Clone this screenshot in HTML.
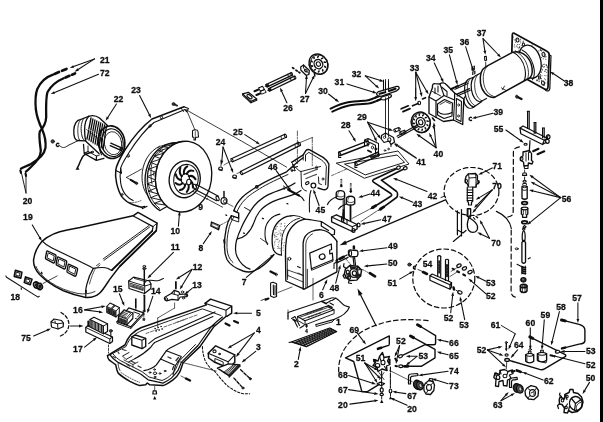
<!DOCTYPE html>
<html><head><meta charset="utf-8"><title>Exploded parts diagram</title>
<style>
html,body{margin:0;padding:0;background:#fff;}
body{width:603px;height:422px;overflow:hidden;position:relative;}
svg{display:block;position:absolute;left:0;top:0;will-change:transform;}
svg text{font-family:"Liberation Sans",sans-serif;font-weight:bold;fill:#111;stroke:#111;stroke-width:0.3px;}
</style></head><body>
<svg width="603" height="422" viewBox="0 0 603 422" fill="none" stroke-linecap="round" stroke-linejoin="round">
<defs><filter id="soft" x="-5%" y="-5%" width="110%" height="110%"><feGaussianBlur stdDeviation="0.4"/></filter></defs>
<rect x="0" y="0" width="603" height="422" fill="#fff"/>
<g filter="url(#soft)">
<path d="M53,74.6 C46,77 40,83 37.3,89 C35.5,94 35.2,102 35.8,109 C36.8,118 40,125 42.4,130 C44.5,135 46,142 45.5,147.8 C44.5,154 38,160 31,164 C27,166 23,167.5 20.9,168.7" stroke="#111" stroke-width="2.29" fill="none" />
<path d="M63.7,78.2 C57,81 51,86 47.7,91.7 C46,96 46,108 46.2,117 C46,123 43,128 39.8,131.5 C38.5,137 40.5,146 40.8,151 C40.5,157 35.5,163 31,167 C29,169 27.5,170.5 25.9,171.7" stroke="#111" stroke-width="2.29" fill="none" />
<line x1="54.5" y1="73.9" x2="59.0" y2="72.0" stroke="#111" stroke-width="2.70"/>
<line x1="62.0" y1="70.8" x2="66.5" y2="68.9" stroke="#111" stroke-width="2.70"/>
<line x1="65.5" y1="77.5" x2="69.5" y2="75.8" stroke="#111" stroke-width="2.70"/>
<line x1="72.0" y1="74.7" x2="75.0" y2="73.4" stroke="#111" stroke-width="2.70"/>
<line x1="20.3" y1="170.5" x2="21.0" y2="173.0" stroke="#111" stroke-width="2.03"/>
<line x1="25.5" y1="173.5" x2="26.0" y2="176.0" stroke="#111" stroke-width="2.03"/>
<path d="M80.4,119.6 C77,119.5 74,124 73.8,130 C73.6,136 75,140 77.5,140.5 L85,140.8" stroke="#111" stroke-width="1.35" fill="none" />
<path d="M80.4,119.6 L88.8,116.3" stroke="#111" stroke-width="1.22" fill="none" />
<path d="M80.4,119.6 C78.5,122 77.5,127 77.8,132 C78,136 78.5,139 79.8,140.6" stroke="#111" stroke-width="0.81" fill="none" />
<path d="M84,118.2 C81.5,121 80.5,127 81.5,133.5 C82,137 83,139.5 84.5,140.7" stroke="#111" stroke-width="0.94" fill="none" />
<path d="M88.8,116.3 C92.5,115 96.5,115.8 99.5,118 L107.5,125.5" stroke="#111" stroke-width="1.35" fill="none" />
<path d="M88.8,116.3 C86,119 84.6,124.5 84.6,130 C84.6,135 85,138.5 85.8,141.2 L99,153.6" stroke="#111" stroke-width="1.35" fill="none" />
<line x1="91.0" y1="118.0" x2="88.8" y2="129.0" stroke="#111" stroke-width="1.35"/>
<line x1="88.7" y1="130.4" x2="87.0" y2="139.0" stroke="#111" stroke-width="1.35"/>
<line x1="92.9" y1="119.0" x2="90.8" y2="130.1" stroke="#111" stroke-width="1.35"/>
<line x1="90.7" y1="131.5" x2="89.0" y2="140.2" stroke="#111" stroke-width="1.35"/>
<line x1="94.9" y1="120.0" x2="92.8" y2="131.2" stroke="#111" stroke-width="1.35"/>
<line x1="92.7" y1="132.7" x2="91.0" y2="141.5" stroke="#111" stroke-width="1.35"/>
<line x1="96.8" y1="121.0" x2="94.7" y2="132.4" stroke="#111" stroke-width="1.35"/>
<line x1="94.6" y1="133.8" x2="93.0" y2="142.8" stroke="#111" stroke-width="1.35"/>
<line x1="98.8" y1="122.0" x2="96.7" y2="133.5" stroke="#111" stroke-width="1.35"/>
<line x1="96.6" y1="134.9" x2="95.1" y2="144.0" stroke="#111" stroke-width="1.35"/>
<line x1="100.7" y1="123.0" x2="98.7" y2="134.6" stroke="#111" stroke-width="1.35"/>
<line x1="98.6" y1="136.0" x2="97.1" y2="145.2" stroke="#111" stroke-width="1.35"/>
<line x1="102.6" y1="124.0" x2="100.6" y2="135.8" stroke="#111" stroke-width="1.35"/>
<line x1="100.5" y1="137.2" x2="99.1" y2="146.5" stroke="#111" stroke-width="1.35"/>
<line x1="104.6" y1="125.0" x2="102.6" y2="136.9" stroke="#111" stroke-width="1.35"/>
<line x1="102.5" y1="138.3" x2="101.1" y2="147.8" stroke="#111" stroke-width="1.35"/>
<line x1="106.5" y1="126.0" x2="104.6" y2="138.0" stroke="#111" stroke-width="1.35"/>
<line x1="104.5" y1="139.4" x2="103.1" y2="149.0" stroke="#111" stroke-width="1.35"/>
<path d="M86.5,129.5 L102,141.5" stroke="#111" stroke-width="0.68" fill="none" />
<ellipse cx="111.6" cy="142.2" rx="13.2" ry="16.4" stroke="#111" stroke-width="1.62" fill="none" transform="rotate(-9 111.6 142.2)"/>
<ellipse cx="112.3" cy="142.7" rx="10.8" ry="14.0" stroke="#111" stroke-width="1.22" fill="none" transform="rotate(-9 112.3 142.7)"/>
<ellipse cx="113.0" cy="143.2" rx="8.6" ry="11.6" stroke="#111" stroke-width="0.81" fill="none" transform="rotate(-9 113.0 143.2)"/>
<path d="M101,129.5 C98,135.5 98,148 101.5,154.8" stroke="#111" stroke-width="1.08" fill="none" />
<path d="M110.8,143.2 L121,147.7 M110.2,145.6 L120.4,150.2" stroke="#111" stroke-width="1.35" fill="none" />
<ellipse cx="120.9" cy="149.0" rx="0.8" ry="1.4" stroke="#111" stroke-width="1.08" fill="none" transform="rotate(-20 120.9 149.0)"/>
<path d="M83.5,144.4 L84.2,153.5 L96.3,160.4 L104,158.3 M84.2,153.5 L88,151.5 M96.3,160.4 L96.5,156" stroke="#111" stroke-width="1.22" fill="none" />
<path d="M88,146 L88,151.5 L96.5,156 L99.5,155" stroke="#111" stroke-width="0.94" fill="none" />
<ellipse cx="92.5" cy="152.0" rx="1.0" ry="0.8" stroke="#111" stroke-width="0.94" fill="none"/>
<path d="M91.8,152 L84.5,154.8 C82.5,155.8 82.3,157.8 81.2,159.6 C80,161.5 79.5,163.3 78.9,164.9 L77.6,167.5" stroke="#111" stroke-width="1.49" fill="none" />
<polygon points="77.5,166.3 75.5,169.8 79.5,169.8" fill="#111"/>
<ellipse cx="52.7" cy="141.4" rx="1.7" ry="1.7" stroke="#111" stroke-width="0.81" fill="#444"/>
<path d="M58.8,143.8 A1.5 1.5 0 1 0 58.8,146" stroke="#111" stroke-width="1.35" fill="none" />
<path d="M59.5,145.5 C62,148.5 65,148 68,145.5 L79.6,139.9" stroke="#111" stroke-width="0.94" fill="none" />
<path d="M184,106.8 L152,119 C141,127.5 132,139 124.9,150 C119.5,159 116.5,165 115.8,169.9 C115.2,174.5 115.6,179 116.6,183.2 C117.8,188.5 119.3,192.8 121.6,196.4 C124.5,200.5 128.5,203 133.2,204.7 C136.5,205.9 139,206.7 141.5,207.2 L144.8,206.4" stroke="#111" stroke-width="1.49" fill="none" />
<path d="M185,109.5 L154,122.5 C144,130.5 136,141.5 129,152.5 C124.5,160 121.5,164.5 120.7,168.2 C120,173 120,178.5 120.7,183.2 C121.5,188 123,191.7 125.7,194.8 C128,197.5 130.5,199.3 133.2,200.6" stroke="#111" stroke-width="1.08" fill="none" />
<path d="M184,106.8 L188.5,108.5 L186.5,111.8 L185,109.5" stroke="#111" stroke-width="1.08" fill="none" />
<path d="M181,108 L183.5,111.5" stroke="#111" stroke-width="0.94" fill="none" />
<path d="M115.8,170.5 L121.5,173.2 L120.7,168.2" stroke="#111" stroke-width="1.08" fill="none" />
<ellipse cx="150.0" cy="126.0" rx="1.0" ry="1.5" stroke="#111" stroke-width="0.81" fill="none" transform="rotate(40 150.0 126.0)"/>
<ellipse cx="161.5" cy="117.5" rx="1.0" ry="1.4" stroke="#111" stroke-width="0.81" fill="none" transform="rotate(40 161.5 117.5)"/>
<ellipse cx="128.5" cy="156.0" rx="0.8" ry="1.5" stroke="#111" stroke-width="0.81" fill="none" transform="rotate(25 128.5 156.0)"/>
<ellipse cx="122.2" cy="194.5" rx="0.8" ry="1.2" stroke="#111" stroke-width="0.81" fill="none"/>
<path d="M141.5,207.2 L142.6,208.6 L147.1,206.3" stroke="#111" stroke-width="1.08" fill="none" />
<path d="M130,202.5 C134,203 138,202 141,200.5" stroke="#111" stroke-width="0.68" fill="none" stroke-dasharray="1.3 1.3" />
<line x1="173.5" y1="104.0" x2="177.1" y2="105.6" stroke="#222" stroke-width="1.89"/>
<ellipse cx="173.5" cy="104.0" rx="1.5" ry="1.5" stroke="#111" stroke-width="0.68" fill="#333"/>
<line x1="186.5" y1="110.0" x2="195.0" y2="130.0" stroke="#111" stroke-width="0.81"/>
<line x1="186.5" y1="110.0" x2="240.5" y2="140.5" stroke="#111" stroke-width="0.81"/>
<line x1="240.5" y1="140.5" x2="286.6" y2="167.1" stroke="#111" stroke-width="0.81"/>
<path d="M192.5,131.5 C192,129.5 197.5,129 198,131.5 L198.5,137 L195.5,137.5 L195.5,140 L194,140 L194,137.5 L192.5,137 Z" stroke="#111" stroke-width="1.08" fill="none" />
<line x1="195.3" y1="131.5" x2="195.3" y2="136.5" stroke="#111" stroke-width="0.68"/>
<line x1="126.5" y1="177.4" x2="130.7" y2="179.9" stroke="#111" stroke-width="0.81"/>
<line x1="126.5" y1="177.4" x2="141.5" y2="169.1" stroke="#111" stroke-width="0.81"/>
<line x1="130.7" y1="179.9" x2="136.0" y2="183.0" stroke="#111" stroke-width="2.03"/>
<ellipse cx="136.6" cy="183.3" rx="1.1" ry="1.3" stroke="#111" stroke-width="0.68" fill="#333"/>
<path d="M160,146 C149,151 142,163 142,177 C142,186 145,193 149,197" stroke="#111" stroke-width="0.94" fill="none" />
<path d="M163,150 C154,155 147.5,165 147.5,177 C147.5,184 149.5,189 152,192" stroke="#111" stroke-width="0.81" fill="none" />
<path d="M166,144.5 C163,145 160,146.5 158,148" stroke="#111" stroke-width="0.81" fill="none" stroke-dasharray="2 1.5" />
<path d="M152,163 C150.5,168 150.5,178 152,184" stroke="#111" stroke-width="0.81" fill="none" />
<ellipse cx="154.5" cy="174.0" rx="1.2" ry="2.0" stroke="#111" stroke-width="0.68" fill="none"/>
<path d="M159.9,210.5 L158.2,209.4 L156.6,208.2 L155.1,206.8 L153.6,205.3 L152.2,203.6 L151.0,201.8 L149.8,199.9 L148.8,197.9 L147.9,195.8 L147.1,193.6 L146.4,191.4 L145.9,189.0 L145.5,186.7 L145.2,184.2 L145.1,181.8 L145.1,179.3 L145.2,176.9 L145.5,174.4 L145.9,172.0 L146.4,169.5 L147.1,167.2 L147.9,164.9 L148.8,162.6 L149.9,160.4 L151.0,158.4 L152.3,156.4 L153.7,154.5 L155.1,152.7 L156.7,151.1 L158.3,149.6 L160.0,148.2 L161.8,147.0 L163.6,145.9 L165.5,145.0 L167.4,144.2 L169.3,143.7 L171.3,143.2 L173.3,143.0 L175.2,142.9" stroke="#111" stroke-width="1.35" fill="none" />
<path d="M159.6,208.4 L158.0,207.1 L156.5,205.6 L155.1,204.1 L153.8,202.3 L152.6,200.5 L151.5,198.5 L150.5,196.5 L149.7,194.3 L148.9,192.1 L148.3,189.8 L147.8,187.5 L147.5,185.1 L147.3,182.6 L147.2,180.2 L147.3,177.7 L147.5,175.2 L147.9,172.8 L148.3,170.3 L149.0,168.0 L149.7,165.6 L150.6,163.3 L151.5,161.1 L152.6,159.0 L153.9,156.9 L155.2,155.0 L156.6,153.2 L158.1,151.5 L159.7,149.9 L161.4,148.5 L163.1,147.2 L164.9,146.0 L166.7,145.0 L168.6,144.2 L170.6,143.5 L172.5,143.0 L174.5,142.7" stroke="#111" stroke-width="0.94" fill="none" />
<ellipse cx="183.6" cy="176.6" rx="28.0" ry="35.5" stroke="#111" stroke-width="1.35" fill="#fff" transform="rotate(8 183.6 176.6)"/>
<line x1="175.2" y1="142.9" x2="182.7" y2="141.4" stroke="#111" stroke-width="1.22"/>
<line x1="159.9" y1="210.5" x2="167.0" y2="206.5" stroke="#111" stroke-width="1.22"/>
<path d="M154.4,203.2 L161.7,200.6 L165.1,204.7 Z" stroke="#111" stroke-width="0.94" fill="none" />
<path d="M151.0,197.5 L158.5,194.6 L161.1,199.7 Z" stroke="#111" stroke-width="0.94" fill="none" />
<path d="M148.6,191.0 L156.4,187.9 L158.1,193.6 Z" stroke="#111" stroke-width="0.94" fill="none" />
<path d="M147.4,183.8 L155.5,180.7 L156.1,186.7 Z" stroke="#111" stroke-width="0.94" fill="none" />
<path d="M147.4,176.5 L155.8,173.3 L155.4,179.5 Z" stroke="#111" stroke-width="0.94" fill="none" />
<path d="M148.6,169.1 L157.3,166.1 L156.0,172.1 Z" stroke="#111" stroke-width="0.94" fill="none" />
<path d="M151.0,162.2 L160.0,159.3 L157.7,164.9 Z" stroke="#111" stroke-width="0.94" fill="none" />
<path d="M154.5,156.0 L163.7,153.2 L160.6,158.2 Z" stroke="#111" stroke-width="0.94" fill="none" />
<path d="M158.9,150.7 L168.3,148.2 L164.4,152.3 Z" stroke="#111" stroke-width="0.94" fill="none" />
<path d="M164.0,146.6 L173.6,144.5 L169.1,147.5 Z" stroke="#111" stroke-width="0.94" fill="none" />
<path d="M169.6,143.8 L179.2,142.1 L174.5,144.0 Z" stroke="#111" stroke-width="0.94" fill="none" />
<ellipse cx="184.7" cy="179.3" rx="15.5" ry="18.5" stroke="#111" stroke-width="1.35" fill="none" transform="rotate(8 184.7 179.3)"/>
<ellipse cx="186.0" cy="179.3" rx="12.2" ry="15.0" stroke="#111" stroke-width="1.08" fill="none" transform="rotate(8 186.0 179.3)"/>
<path d="M189.4,179.9 Q193.3,181.9 192.9,187.6" stroke="#111" stroke-width="2.03" fill="none" />
<path d="M188.0,183.1 Q190.0,187.7 186.8,191.9" stroke="#111" stroke-width="2.03" fill="none" />
<path d="M185.3,184.4 Q184.5,189.5 180.0,190.1" stroke="#111" stroke-width="2.03" fill="none" />
<path d="M182.6,183.1 Q179.4,186.4 175.6,183.1" stroke="#111" stroke-width="2.03" fill="none" />
<path d="M181.2,179.9 Q177.0,179.8 175.8,174.2" stroke="#111" stroke-width="2.03" fill="none" />
<path d="M181.7,176.3 Q178.6,172.8 180.4,167.6" stroke="#111" stroke-width="2.03" fill="none" />
<path d="M183.9,173.9 Q183.3,168.7 187.3,166.3" stroke="#111" stroke-width="2.03" fill="none" />
<path d="M186.7,173.9 Q188.9,169.5 193.3,170.9" stroke="#111" stroke-width="2.03" fill="none" />
<path d="M188.9,176.3 Q192.8,174.7 195.5,179.3" stroke="#111" stroke-width="2.03" fill="none" />
<ellipse cx="185.3" cy="179.0" rx="4.2" ry="5.4" stroke="#111" stroke-width="1.08" fill="none" transform="rotate(8 185.3 179.0)"/>
<ellipse cx="188.8" cy="182.0" rx="2.2" ry="2.8" stroke="#111" stroke-width="1.08" fill="#fff" transform="rotate(8 188.8 182.0)"/>
<line x1="190.5" y1="182.8" x2="196.0" y2="185.6" stroke="#111" stroke-width="0.94"/>
<path d="M195.8,184.3 L218.5,196.2 M193.8,188.8 L216.6,200.7" stroke="#111" stroke-width="1.22" fill="none" />
<ellipse cx="194.8" cy="186.6" rx="1.3" ry="2.4" stroke="#111" stroke-width="1.08" fill="#fff" transform="rotate(-25 194.8 186.6)"/>
<ellipse cx="217.6" cy="198.4" rx="1.3" ry="2.4" stroke="#111" stroke-width="1.08" fill="none" transform="rotate(-25 217.6 198.4)"/>
<ellipse cx="224.0" cy="200.8" rx="3.0" ry="3.3" stroke="#111" stroke-width="1.22" fill="#fff"/>
<ellipse cx="225.0" cy="201.3" rx="1.5" ry="1.8" stroke="#111" stroke-width="0.81" fill="none"/>
<line x1="224.0" y1="191.5" x2="224.0" y2="198.0" stroke="#111" stroke-width="1.49"/>
<line x1="226.5" y1="203.0" x2="233.0" y2="206.5" stroke="#111" stroke-width="0.68"/>
<path d="M193.2,191.5 L222.6,207.2 M207.5,198.2 L206.8,199.6" stroke="#111" stroke-width="0.81" fill="none" />
<path d="M232.7,161.7 L286.2,137.3" stroke="#111" stroke-width="1.22" fill="none" />
<path d="M231.3,158.7 L284.8,134.3" stroke="#111" stroke-width="1.22" fill="none" />
<ellipse cx="232.0" cy="160.2" rx="0.9" ry="1.8" stroke="#111" stroke-width="1.08" fill="none" transform="rotate(-25 232.0 160.2)"/>
<ellipse cx="285.5" cy="135.8" rx="0.9" ry="1.8" stroke="#111" stroke-width="1.08" fill="none" transform="rotate(-25 285.5 135.8)"/>
<line x1="281.0" y1="136.5" x2="281.6" y2="139.3" stroke="#111" stroke-width="0.81"/>
<path d="M242.1,174.5 L300.2,145.4" stroke="#111" stroke-width="1.22" fill="none" />
<path d="M240.5,171.5 L298.6,142.4" stroke="#111" stroke-width="1.22" fill="none" />
<ellipse cx="241.3" cy="173.0" rx="0.9" ry="1.8" stroke="#111" stroke-width="1.08" fill="none" transform="rotate(-25 241.3 173.0)"/>
<ellipse cx="299.4" cy="143.9" rx="0.9" ry="1.8" stroke="#111" stroke-width="1.08" fill="none" transform="rotate(-25 299.4 143.9)"/>
<line x1="294.9" y1="144.7" x2="295.5" y2="147.5" stroke="#111" stroke-width="0.81"/>
<ellipse cx="220.6" cy="168.6" rx="1.9" ry="1.6" stroke="#111" stroke-width="1.22" fill="#fff"/>
<line x1="221.0" y1="166.0" x2="221.0" y2="160.0" stroke="#111" stroke-width="0.81"/>
<path d="M219,169.5 L222,170.5" stroke="#111" stroke-width="1.22" fill="none" />
<ellipse cx="234.6" cy="176.6" rx="1.9" ry="1.6" stroke="#111" stroke-width="1.22" fill="#fff"/>
<path d="M233,177.5 L236,178.5" stroke="#111" stroke-width="1.22" fill="none" />
<line x1="224.0" y1="165.0" x2="231.0" y2="161.0" stroke="#111" stroke-width="0.68"/>
<line x1="237.0" y1="173.5" x2="241.0" y2="172.0" stroke="#111" stroke-width="0.68"/>
<path d="M242.6,93.9 L248.4,92.3 L256.7,98.9 L250.9,101.4 Z" stroke="#111" stroke-width="1.22" fill="none" />
<path d="M242.6,93.9 L242.8,95.3 L250.9,102.8 L250.9,101.4" stroke="#111" stroke-width="1.08" fill="none" />
<line x1="250.9" y1="102.8" x2="256.7" y2="100.2" stroke="#111" stroke-width="1.08"/>
<line x1="256.7" y1="98.9" x2="256.7" y2="100.2" stroke="#111" stroke-width="1.08"/>
<ellipse cx="249.5" cy="96.6" rx="3.0" ry="1.4" stroke="#111" stroke-width="1.08" fill="none" transform="rotate(38 249.5 96.6)"/>
<line x1="254.5" y1="91.2" x2="258.0" y2="89.8" stroke="#111" stroke-width="2.16"/>
<line x1="256.5" y1="95.0" x2="260.0" y2="93.6" stroke="#111" stroke-width="2.16"/>
<path d="M258.5,88.0 L262.5,86.3 L264.5,89.5 L260.5,91.3 Z" stroke="#111" stroke-width="1.08" fill="none" />
<path d="M260.5,91.3 L264.5,89.5 L266.2,92.3 L262.0,94.0 Z" stroke="#111" stroke-width="0.94" fill="none" />
<path d="M267.3,86.9 L292.2,75.2" stroke="#111" stroke-width="1.35" fill="none" />
<path d="M266.1,84.5 L291.0,72.8" stroke="#111" stroke-width="1.35" fill="none" />
<ellipse cx="266.7" cy="85.7" rx="0.8" ry="1.4" stroke="#111" stroke-width="1.08" fill="none" transform="rotate(-25.16787014978159 266.7 85.7)"/>
<ellipse cx="291.6" cy="74.0" rx="0.8" ry="1.4" stroke="#111" stroke-width="1.08" fill="none" transform="rotate(-25.16787014978159 291.6 74.0)"/>
<path d="M269.8,91.0 L295.5,78.6" stroke="#111" stroke-width="1.35" fill="none" />
<path d="M268.6,88.6 L294.3,76.2" stroke="#111" stroke-width="1.35" fill="none" />
<ellipse cx="269.2" cy="89.8" rx="0.8" ry="1.4" stroke="#111" stroke-width="1.08" fill="none" transform="rotate(-25.756857109895716 269.2 89.8)"/>
<ellipse cx="294.9" cy="77.4" rx="0.8" ry="1.4" stroke="#111" stroke-width="1.08" fill="none" transform="rotate(-25.756857109895716 294.9 77.4)"/>
<polygon points="264.3,86.8 268.5,83.6 269.3,86.6" fill="#111"/>
<polygon points="266.8,90.9 271,87.7 271.8,90.7" fill="#111"/>
<line x1="287.5" y1="74.2" x2="288.7" y2="77.0" stroke="#111" stroke-width="0.94"/>
<line x1="290.2" y1="78.0" x2="291.2" y2="80.5" stroke="#111" stroke-width="0.94"/>
<line x1="292.6" y1="67.7" x2="293.8" y2="68.5" stroke="#111" stroke-width="1.76"/>
<line x1="296.0" y1="70.2" x2="297.2" y2="71.0" stroke="#111" stroke-width="1.76"/>
<line x1="298.8" y1="72.1" x2="299.8" y2="72.8" stroke="#111" stroke-width="1.76"/>
<path d="M300.7,67.0 L303.5,65.0 L309.3,70.5 L309.0,74.3 L306.3,75.5 L300.9,70.2 Z" stroke="#111" stroke-width="1.22" fill="none" />
<path d="M303.5,65.0 L303.6,68.3 L309.0,73.5" stroke="#111" stroke-width="0.94" fill="none" />
<ellipse cx="305.8" cy="70.6" rx="1.6" ry="1.1" stroke="#111" stroke-width="0.94" fill="none" transform="rotate(40 305.8 70.6)"/>
<line x1="306.5" y1="75.5" x2="306.8" y2="78.0" stroke="#111" stroke-width="1.08"/>
<ellipse cx="318.4" cy="64.1" rx="9.1" ry="10.4" stroke="#111" stroke-width="1.49" fill="none" transform="rotate(-28 318.4 64.1)"/>
<ellipse cx="319.3" cy="64.6" rx="8.6" ry="10.0" stroke="#111" stroke-width="0.81" fill="none" transform="rotate(-28 319.3 64.6)"/>
<ellipse cx="318.4" cy="64.1" rx="4.2" ry="4.8" stroke="#111" stroke-width="1.35" fill="none" transform="rotate(-28 318.4 64.1)"/>
<ellipse cx="318.4" cy="64.1" rx="2.0" ry="2.3" stroke="#111" stroke-width="1.08" fill="none" transform="rotate(-28 318.4 64.1)"/>
<line x1="324.3" y1="62.1" x2="325.3" y2="62.3" stroke="#111" stroke-width="1.62"/>
<line x1="324.7" y1="66.4" x2="325.4" y2="67.2" stroke="#111" stroke-width="1.62"/>
<line x1="322.7" y1="69.8" x2="322.8" y2="70.9" stroke="#111" stroke-width="1.62"/>
<line x1="319.0" y1="71.0" x2="318.5" y2="72.0" stroke="#111" stroke-width="1.62"/>
<line x1="315.2" y1="69.6" x2="314.2" y2="70.1" stroke="#111" stroke-width="1.62"/>
<line x1="312.5" y1="66.1" x2="311.5" y2="65.9" stroke="#111" stroke-width="1.62"/>
<line x1="312.1" y1="61.8" x2="311.4" y2="61.0" stroke="#111" stroke-width="1.62"/>
<line x1="314.1" y1="58.4" x2="314.0" y2="57.3" stroke="#111" stroke-width="1.62"/>
<line x1="317.8" y1="57.2" x2="318.3" y2="56.2" stroke="#111" stroke-width="1.62"/>
<line x1="321.6" y1="58.6" x2="322.6" y2="58.1" stroke="#111" stroke-width="1.62"/>
<line x1="314.3" y1="73.5" x2="315.0" y2="76.0" stroke="#111" stroke-width="1.35"/>
<path d="M330.6,108.6 C337,105.5 342,103.5 348,102.3 C356,100.8 362,101.2 366.5,100.6 C370,100 372.5,98.6 375.5,97.6" stroke="#111" stroke-width="2.03" fill="none" />
<path d="M332.3,111.6 C339,108.5 344,106.5 350,105.3 C358,103.8 364,104.2 368.5,103.6 C372,103 374.5,101.6 377.5,100.6" stroke="#111" stroke-width="2.03" fill="none" />
<line x1="375.5" y1="97.6" x2="379.5" y2="96.0" stroke="#111" stroke-width="2.16"/>
<line x1="377.5" y1="100.6" x2="381.5" y2="99.0" stroke="#111" stroke-width="2.16"/>
<line x1="385.5" y1="79.5" x2="385.5" y2="136.5" stroke="#111" stroke-width="0.88"/>
<line x1="388.5" y1="79.5" x2="388.5" y2="136.5" stroke="#111" stroke-width="0.88"/>
<line x1="383.5" y1="80.0" x2="383.5" y2="90.0" stroke="#111" stroke-width="1.08"/>
<path d="M377.5,95.6 C376,94.3 376.6,92.3 378.6,91.6 L396.8,86.4 C398.8,86.1 399.9,87.7 398.7,89.1 L396,91.2 L381,96.3 Z" stroke="#111" stroke-width="1.35" fill="#fff" />
<path d="M379.6,93.8 L385.3,92.2 M389,91 L395.5,88.8" stroke="#111" stroke-width="2.16" fill="none" />
<path d="M381.5,99.5 C380.3,98.3 381,97 382.7,96.6 L389.5,94.6 C391.5,94.4 392.1,95.8 391,96.9 L388.5,98.3 L384,100 Z" stroke="#111" stroke-width="1.22" fill="#fff" />
<line x1="385.5" y1="82.0" x2="385.5" y2="92.0" stroke="#111" stroke-width="0.88"/>
<line x1="388.5" y1="82.0" x2="388.5" y2="91.3" stroke="#111" stroke-width="0.88"/>
<line x1="385.5" y1="97.8" x2="385.5" y2="101.0" stroke="#111" stroke-width="0.88"/>
<line x1="388.5" y1="96.5" x2="388.5" y2="101.0" stroke="#111" stroke-width="0.88"/>
<path d="M340.3,155.5 L368.7,144.5" stroke="#111" stroke-width="1.35" fill="none" />
<path d="M338.9,152.1 L367.3,141.1" stroke="#111" stroke-width="1.35" fill="none" />
<ellipse cx="339.6" cy="153.8" rx="1.0" ry="1.9" stroke="#111" stroke-width="1.08" fill="none" transform="rotate(-21.172578619429586 339.6 153.8)"/>
<ellipse cx="368.0" cy="142.8" rx="1.0" ry="1.9" stroke="#111" stroke-width="1.08" fill="none" transform="rotate(-21.172578619429586 368.0 142.8)"/>
<path d="M356.7,165.5 L378.8,155.7" stroke="#111" stroke-width="1.35" fill="none" />
<path d="M355.3,162.1 L377.4,152.3" stroke="#111" stroke-width="1.35" fill="none" />
<ellipse cx="356.0" cy="163.8" rx="1.0" ry="1.9" stroke="#111" stroke-width="1.08" fill="none" transform="rotate(-23.914361493656173 356.0 163.8)"/>
<ellipse cx="378.1" cy="154.0" rx="1.0" ry="1.9" stroke="#111" stroke-width="1.08" fill="none" transform="rotate(-23.914361493656173 378.1 154.0)"/>
<path d="M339,152 L338.6,157.3 L340.8,157.5" stroke="#111" stroke-width="1.22" fill="none" />
<path d="M355.3,162 L354.9,167.3 L357,167.5" stroke="#111" stroke-width="1.22" fill="none" />
<path d="M364.5,146 L364.5,140 L368,138.5 L378.5,143.5 L378.5,156 M368,138.5 L368,146 M364.5,140 L375.5,145.2 L375.5,154" stroke="#111" stroke-width="1.08" fill="none" />
<ellipse cx="372.5" cy="147.5" rx="1.1" ry="1.4" stroke="#111" stroke-width="0.94" fill="none"/>
<ellipse cx="375.8" cy="149.0" rx="1.0" ry="1.3" stroke="#111" stroke-width="0.94" fill="none"/>
<line x1="368.0" y1="150.5" x2="371.0" y2="152.0" stroke="#111" stroke-width="1.89"/>
<path d="M381.5,135.5 L385.5,133 L393.5,137.5 L394.5,142 L391,144.5 L389,141 L384,142.5 L381.3,139 Z" stroke="#111" stroke-width="1.22" fill="none" />
<ellipse cx="389.3" cy="139.8" rx="1.6" ry="2.0" stroke="#111" stroke-width="1.08" fill="none"/>
<ellipse cx="384.5" cy="137.3" rx="1.2" ry="1.2" stroke="#111" stroke-width="0.81" fill="none"/>
<line x1="391.0" y1="144.5" x2="391.0" y2="146.5" stroke="#111" stroke-width="1.08"/>
<ellipse cx="388.5" cy="149.0" rx="0.8" ry="0.8" stroke="#111" stroke-width="0.81" fill="none"/>
<ellipse cx="385.0" cy="150.5" rx="0.8" ry="0.8" stroke="#111" stroke-width="0.81" fill="none"/>
<path d="M395.1,132.0 L399.8,130.3" stroke="#111" stroke-width="1.08" fill="none" />
<path d="M394.1,129.2 L398.8,127.5" stroke="#111" stroke-width="1.08" fill="none" />
<ellipse cx="394.6" cy="130.6" rx="0.8" ry="1.5" stroke="#111" stroke-width="0.86" fill="none" transform="rotate(-19.88516511385536 394.6 130.6)"/>
<ellipse cx="399.3" cy="128.9" rx="0.8" ry="1.5" stroke="#111" stroke-width="0.86" fill="none" transform="rotate(-19.88516511385536 399.3 128.9)"/>
<path d="M400.8,134.7 L405.5,133.0" stroke="#111" stroke-width="1.08" fill="none" />
<path d="M399.8,131.9 L404.5,130.2" stroke="#111" stroke-width="1.08" fill="none" />
<ellipse cx="400.3" cy="133.3" rx="0.8" ry="1.5" stroke="#111" stroke-width="0.86" fill="none" transform="rotate(-19.885165113855667 400.3 133.3)"/>
<ellipse cx="405.0" cy="131.6" rx="0.8" ry="1.5" stroke="#111" stroke-width="0.86" fill="none" transform="rotate(-19.885165113855667 405.0 131.6)"/>
<line x1="395.0" y1="143.0" x2="416.0" y2="157.5" stroke="#111" stroke-width="0.68"/>
<line x1="346.6" y1="169.0" x2="331.6" y2="175.6" stroke="#111" stroke-width="0.68" stroke-dasharray="3 1.5 0.8 1.5"/>
<path d="M336.6,163.1 L398.0,151.0 L409.0,164.0 L364.8,178.1 Z" stroke="#111" stroke-width="0.94" fill="none" />
<path d="M344.9,164.0 L397.0,155.0 L404.6,162.3 L365.6,174.8 Z" stroke="#111" stroke-width="0.94" fill="none" />
<line x1="372.1" y1="157.2" x2="375.9" y2="155.8" stroke="#222" stroke-width="2.03"/>
<ellipse cx="372.1" cy="157.2" rx="1.5" ry="1.5" stroke="#111" stroke-width="0.68" fill="#333"/>
<ellipse cx="420.7" cy="122.3" rx="9.4" ry="10.3" stroke="#111" stroke-width="1.49" fill="none" transform="rotate(-20 420.7 122.3)"/>
<ellipse cx="421.5" cy="122.8" rx="9.0" ry="10.0" stroke="#111" stroke-width="0.81" fill="none" transform="rotate(-20 421.5 122.8)"/>
<ellipse cx="420.7" cy="122.3" rx="4.4" ry="4.9" stroke="#111" stroke-width="1.35" fill="none" transform="rotate(-20 420.7 122.3)"/>
<ellipse cx="420.7" cy="122.3" rx="2.1" ry="2.5" stroke="#111" stroke-width="1.08" fill="none" transform="rotate(-20 420.7 122.3)"/>
<line x1="427.0" y1="121.1" x2="428.1" y2="121.3" stroke="#111" stroke-width="1.49"/>
<line x1="427.0" y1="124.8" x2="427.8" y2="125.5" stroke="#111" stroke-width="1.49"/>
<line x1="425.2" y1="127.7" x2="425.6" y2="128.8" stroke="#111" stroke-width="1.49"/>
<line x1="422.2" y1="129.3" x2="422.0" y2="130.3" stroke="#111" stroke-width="1.49"/>
<line x1="418.8" y1="128.9" x2="418.1" y2="129.7" stroke="#111" stroke-width="1.49"/>
<line x1="416.0" y1="126.8" x2="414.9" y2="127.2" stroke="#111" stroke-width="1.49"/>
<line x1="414.4" y1="123.5" x2="413.3" y2="123.3" stroke="#111" stroke-width="1.49"/>
<line x1="414.4" y1="119.8" x2="413.6" y2="119.1" stroke="#111" stroke-width="1.49"/>
<line x1="416.2" y1="116.9" x2="415.8" y2="115.8" stroke="#111" stroke-width="1.49"/>
<line x1="419.2" y1="115.3" x2="419.4" y2="114.3" stroke="#111" stroke-width="1.49"/>
<line x1="422.6" y1="115.7" x2="423.3" y2="114.9" stroke="#111" stroke-width="1.49"/>
<line x1="425.4" y1="117.8" x2="426.5" y2="117.4" stroke="#111" stroke-width="1.49"/>
<line x1="418.0" y1="124.5" x2="397.0" y2="136.2" stroke="#111" stroke-width="1.08"/>
<line x1="418.8" y1="126.2" x2="398.0" y2="137.8" stroke="#111" stroke-width="1.08"/>
<line x1="432.5" y1="118.0" x2="434.5" y2="120.5" stroke="#111" stroke-width="1.62"/>
<line x1="433.0" y1="126.5" x2="434.5" y2="129.0" stroke="#111" stroke-width="1.35"/>
<line x1="401.2" y1="108.8" x2="408.3" y2="105.8" stroke="#111" stroke-width="1.76"/>
<line x1="403.0" y1="111.6" x2="410.0" y2="108.6" stroke="#111" stroke-width="1.76"/>
<line x1="412.5" y1="105.8" x2="418.0" y2="103.4" stroke="#111" stroke-width="1.62"/>
<ellipse cx="419.2" cy="103.0" rx="1.4" ry="1.8" stroke="#111" stroke-width="1.08" fill="none"/>
<line x1="422.5" y1="99.0" x2="425.5" y2="97.7" stroke="#111" stroke-width="1.62"/>
<line x1="415.7" y1="88.0" x2="415.7" y2="98.0" stroke="#111" stroke-width="0.81"/>
<path d="M514.5,33.4 L546.5,51 C548.5,52 549.2,53.2 549.2,55 L548,87 C548,89.3 546.5,90 544.5,89 L513,71.5 C511.5,70.5 511.3,69.5 511.4,68 L512.3,35 C512.4,33 513,32.6 514.5,33.4 Z" stroke="#111" stroke-width="1.76" fill="#fff" />
<path d="M549.2,55 L551,55.8 L549.8,88.5 C549.7,90.8 548,91.5 546,90.5 L544.5,89" stroke="#111" stroke-width="1.22" fill="none" />
<ellipse cx="529.8" cy="61.7" rx="11.0" ry="16.8" stroke="#111" stroke-width="1.35" fill="none" transform="rotate(-14 529.8 61.7)"/>
<path d="M522,50 C526.5,52 531.5,58 533.5,66 C535,72 534.5,76.5 532.5,79.8" stroke="#111" stroke-width="1.08" fill="none" />
<ellipse cx="517.5" cy="40.0" rx="1.5" ry="2.0" stroke="#111" stroke-width="1.08" fill="none" transform="rotate(-14 517.5 40.0)"/>
<ellipse cx="543.5" cy="54.5" rx="1.5" ry="2.0" stroke="#111" stroke-width="1.08" fill="none" transform="rotate(-14 543.5 54.5)"/>
<ellipse cx="543.0" cy="83.0" rx="1.5" ry="2.0" stroke="#111" stroke-width="1.08" fill="none" transform="rotate(-14 543.0 83.0)"/>
<ellipse cx="517.0" cy="68.5" rx="1.5" ry="2.0" stroke="#111" stroke-width="1.08" fill="none" transform="rotate(-14 517.0 68.5)"/>
<ellipse cx="523.5" cy="44.5" rx="1.1" ry="1.5" stroke="#111" stroke-width="0.94" fill="none" transform="rotate(-14 523.5 44.5)"/>
<ellipse cx="539.5" cy="77.5" rx="1.1" ry="1.5" stroke="#111" stroke-width="0.94" fill="none" transform="rotate(-14 539.5 77.5)"/>
<ellipse cx="521.0" cy="72.5" rx="1.1" ry="1.5" stroke="#111" stroke-width="0.94" fill="none" transform="rotate(-14 521.0 72.5)"/>
<path d="M513.1,64.1h0.1 M548.2,69.4h0.1 M542.5,66.6h0.1 M523.4,41.2h0.1 M543.6,67.1h0.1 M538.3,78.6h0.1 M538.2,79.9h0.1 M544.1,54.2h0.1 M517.5,44.6h0.1 M547.2,67.6h0.1 M537.0,79.6h0.1 M543.3,85.0h0.1 M543.4,84.2h0.1 M545.0,71.2h0.1 M542.4,70.0h0.1 M522.8,42.0h0.1 M543.2,84.9h0.1 M515.8,64.2h0.1 M543.8,52.2h0.1 M544.1,85.1h0.1 M523.7,42.9h0.1 M514.1,65.7h0.1 M544.7,64.3h0.1 M546.3,69.6h0.1 M547.6,70.8h0.1 M532.2,45.0h0.1 M513.3,56.4h0.1 M513.4,37.0h0.1 M536.8,80.7h0.1 M540.2,49.7h0.1 M541.4,57.7h0.1 M542.4,65.3h0.1 M543.2,56.3h0.1 M544.3,66.7h0.1 M520.7,42.9h0.1 M541.5,78.8h0.1 M519.2,47.6h0.1 M541.5,71.9h0.1 M517.2,47.1h0.1 M545.6,57.0h0.1 M512.8,67.6h0.1 M544.1,85.3h0.1 M545.8,59.4h0.1 M539.3,77.6h0.1 M520.7,41.1h0.1 M541.6,51.1h0.1 M544.9,75.5h0.1 M545.7,83.0h0.1 M544.8,71.3h0.1 M513.1,60.8h0.1 M518.8,48.2h0.1 M545.6,79.8h0.1 M542.1,50.0h0.1 M514.4,44.9h0.1 M540.4,48.9h0.1 M514.6,40.0h0.1 M517.1,39.2h0.1 M547.5,82.4h0.1 M515.7,53.7h0.1 M517.0,56.2h0.1 M515.5,42.2h0.1 M515.2,50.7h0.1 M546.1,64.9h0.1 M544.7,78.8h0.1 M517.0,65.2h0.1 M541.0,72.5h0.1 M516.3,57.0h0.1 M512.8,39.6h0.1 M540.3,50.4h0.1 M515.9,39.7h0.1 M544.1,57.1h0.1 M513.4,64.4h0.1 M516.9,66.3h0.1 M546.7,72.4h0.1 M541.2,50.5h0.1 M539.4,81.1h0.1 M514.8,47.0h0.1 M521.3,45.3h0.1 M515.6,53.6h0.1 M547.4,67.0h0.1 M544.7,56.3h0.1 M516.0,62.5h0.1 M545.4,69.6h0.1 M519.3,47.3h0.1 M537.3,80.7h0.1 M520.4,39.3h0.1 M518.8,50.3h0.1 M517.7,71.8h0.1 M542.0,69.2h0.1 M543.3,64.4h0.1 M538.9,81.7h0.1 M536.8,80.5h0.1 M543.2,58.8h0.1 M519.4,47.1h0.1 M543.3,81.9h0.1 M538.7,51.0h0.1 M515.9,65.4h0.1 M512.8,46.3h0.1 M546.8,65.9h0.1 M516.6,67.6h0.1 M545.1,54.7h0.1 M546.3,65.0h0.1 M540.3,75.3h0.1 M547.0,75.8h0.1 M519.0,69.0h0.1 M546.0,56.7h0.1 M515.1,60.8h0.1 M543.8,52.1h0.1 M516.6,46.0h0.1 M516.2,40.3h0.1 M540.5,74.4h0.1 M519.2,44.5h0.1 M541.8,75.8h0.1 M519.8,47.0h0.1 M540.6,50.0h0.1 M541.4,80.6h0.1 M546.6,65.5h0.1" stroke="#333" stroke-width="0.94" fill="none" />
<path d="M486,66.7 L512.9,52.2 C520,50 528,55 531,63.5 C533,70 532.5,74.5 530.3,77.5 L494,97.6 C486.5,97.5 481.5,90.5 480.5,83 C479.5,75 482,69 486,66.7 Z" stroke="#111" stroke-width="1.49" fill="#fff" />
<path d="M488.5,65.5 C484.5,68 482.5,74 483.5,82 C484.5,89.5 488.5,96 495.5,96.8" stroke="#111" stroke-width="0.81" fill="none" />
<path d="M512.9,52.2 C518.5,54.5 523.5,61 525,69 C526,74.5 525.5,78 524,80.8" stroke="#111" stroke-width="1.08" fill="none" />
<path d="M516,51.6 C521.5,54 526.5,60.5 528,68.5 C529,74 528.5,77 527,79.3" stroke="#111" stroke-width="0.81" fill="none" />
<path d="M480.8,73 L475.5,75.8 C472,78 470.5,83.5 471.5,90 C472.5,96.5 476,101.5 480,102 L486.5,98.5 " stroke="#111" stroke-width="1.22" fill="none" />
<path d="M478,74.5 C475,77.5 474,83 475,89.5 C476,95.5 478.5,99.5 482,100.8" stroke="#111" stroke-width="0.81" fill="none" />
<path d="M473.5,77.3 L468.3,79.3 C465,81.5 464,87 465,93.5 C466,100 469.5,106 473.8,107 L481.5,101.8" stroke="#111" stroke-width="1.22" fill="none" />
<path d="M470.8,78.3 C467.5,81 466.8,86.5 467.8,93 C468.8,99 471.5,104.5 475.5,105.8" stroke="#111" stroke-width="0.81" fill="none" />
<path d="M465.5,96 C463,98 463.5,104 467,107 C469,108.8 472,108.5 473.8,107" stroke="#111" stroke-width="1.08" fill="none" />
<line x1="472.2" y1="66.8" x2="472.2" y2="70.2" stroke="#111" stroke-width="1.35"/>
<line x1="474.2" y1="66.2" x2="474.2" y2="69.6" stroke="#111" stroke-width="1.35"/>
<line x1="472.8" y1="71.8" x2="472.8" y2="74.5" stroke="#111" stroke-width="1.22"/>
<line x1="474.8" y1="71.2" x2="474.8" y2="73.8" stroke="#111" stroke-width="1.22"/>
<path d="M484.5,56.5 L486.3,56.2 L486.6,60.2 L484.8,60.5 Z" stroke="#111" stroke-width="1.08" fill="none" />
<line x1="485.7" y1="62.0" x2="485.7" y2="66.5" stroke="#111" stroke-width="0.81"/>
<line x1="501.3" y1="87.8" x2="506.0" y2="90.5" stroke="#111" stroke-width="0.81"/>
<line x1="504.5" y1="86.0" x2="502.5" y2="89.8" stroke="#111" stroke-width="0.81"/>
<line x1="517.5" y1="97.0" x2="521.5" y2="99.0" stroke="#111" stroke-width="2.16"/>
<ellipse cx="516.8" cy="96.7" rx="1.2" ry="1.6" stroke="#111" stroke-width="0.68" fill="#333" transform="rotate(-20 516.8 96.7)"/>
<path d="M429,97 L429,113.5 L443.5,121.5 L453.5,120 L462.7,124.5 L463.8,99 L454.6,93 L446.5,84.8 C445,82.5 441.5,82.3 440,84 L435,83.7 C433.5,83.2 432,85 432.5,87.5 L429,97 Z" stroke="#111" stroke-width="1.35" fill="none" />
<path d="M429,97 L436,101 L436,117.5 M436,101 L444,95.5 L454.6,100 L454.6,93" stroke="#111" stroke-width="1.22" fill="none" />
<path d="M454.6,100 L453.5,120 M444,95.5 L440,84" stroke="#111" stroke-width="1.08" fill="none" />
<path d="M437.5,104 L444.5,99.5 L452.5,103 L452,116 L444,118.5 L437.5,115 Z" stroke="#111" stroke-width="1.22" fill="none" />
<path d="M437.5,111 C440,114.5 446,115.5 452,112.5" stroke="#111" stroke-width="1.08" fill="none" />
<path d="M440,104.5 L445.5,101.5 L450.5,103.8" stroke="#111" stroke-width="0.81" fill="none" />
<path d="M456.5,98.5 L461.5,101.5 L461,121.5 L456,119 Z" stroke="#111" stroke-width="1.08" fill="none" />
<ellipse cx="458.7" cy="105.0" rx="0.9" ry="1.2" stroke="#111" stroke-width="0.81" fill="none"/>
<ellipse cx="458.5" cy="116.0" rx="0.9" ry="1.2" stroke="#111" stroke-width="0.81" fill="none"/>
<path d="M435,88 L435,93.5 M438,86 L438,92 M441.5,87 L447,91.5 L447,95.5" stroke="#111" stroke-width="1.08" fill="none" />
<path d="M432.5,91.5 L440.5,95.8" stroke="#111" stroke-width="0.94" fill="none" />
<path d="M454.9,89.3 L467.9,83.5" stroke="#111" stroke-width="1.22" fill="none" />
<path d="M454.1,87.7 L467.1,81.9" stroke="#111" stroke-width="1.22" fill="none" />
<path d="M457.2,96.0 L470.2,90.2" stroke="#111" stroke-width="1.22" fill="none" />
<path d="M456.4,94.4 L469.4,88.6" stroke="#111" stroke-width="1.22" fill="none" />
<line x1="451.0" y1="89.2" x2="453.5" y2="88.0" stroke="#111" stroke-width="2.16"/>
<line x1="455.5" y1="87.0" x2="458.0" y2="85.9" stroke="#111" stroke-width="2.16"/>
<path d="M471.5,117.5 A1.6 1.6 0 1 0 471.5,120.3" stroke="#111" stroke-width="1.35" fill="none" />
<path d="M520,128.1 L523,126 L547.3,138.2 L544.3,140.3 Z" stroke="#111" stroke-width="1.22" fill="none" />
<path d="M520,128.1 L520.8,133.8 L542.5,144.5 L544.3,140.3 M542.5,144.5 L546,142.5" stroke="#111" stroke-width="1.22" fill="none" />
<ellipse cx="548.2" cy="136.8" rx="1.8" ry="2.0" stroke="#111" stroke-width="1.22" fill="none"/>
<ellipse cx="547.4" cy="141.3" rx="1.8" ry="2.0" stroke="#111" stroke-width="1.22" fill="none"/>
<path d="M547.3,138.2 L548.2,134.8" stroke="#111" stroke-width="1.08" fill="none" />
<line x1="527.6" y1="111.3" x2="527.6" y2="128.5" stroke="#111" stroke-width="1.22"/>
<line x1="529.2" y1="111.3" x2="529.2" y2="128.5" stroke="#111" stroke-width="1.22"/>
<line x1="527.6" y1="111.3" x2="529.2" y2="111.3" stroke="#111" stroke-width="1.08"/>
<line x1="534.2" y1="122.5" x2="534.2" y2="133.3" stroke="#111" stroke-width="1.22"/>
<line x1="535.8" y1="122.5" x2="535.8" y2="133.3" stroke="#111" stroke-width="1.22"/>
<line x1="534.2" y1="122.5" x2="535.8" y2="122.5" stroke="#111" stroke-width="1.08"/>
<line x1="542.6" y1="128.0" x2="542.6" y2="137.8" stroke="#111" stroke-width="1.22"/>
<line x1="544.2" y1="128.0" x2="544.2" y2="137.8" stroke="#111" stroke-width="1.22"/>
<line x1="542.6" y1="128.0" x2="544.2" y2="128.0" stroke="#111" stroke-width="1.08"/>
<line x1="530.0" y1="140.5" x2="529.2" y2="152.5" stroke="#111" stroke-width="1.22"/>
<ellipse cx="525.6" cy="144.3" rx="1.6" ry="1.0" stroke="#111" stroke-width="1.08" fill="none"/>
<path d="M523,152 L529.5,150.5 L531.5,153.5 L531.5,160.5 L533,161.5 L532,164 L528.5,163 L528,165.5 L524,166 L523.5,162 L520.5,160.5 L521,157 L523,156 Z" stroke="#111" stroke-width="1.35" fill="none" />
<ellipse cx="521.5" cy="158.8" rx="1.5" ry="1.8" stroke="#111" stroke-width="1.08" fill="none"/>
<line x1="526.0" y1="153.0" x2="526.0" y2="161.0" stroke="#111" stroke-width="0.94"/>
<line x1="528.5" y1="152.5" x2="528.5" y2="160.0" stroke="#111" stroke-width="0.94"/>
<path d="M524,166 L524.5,168.5 L528,168.5 L528,165.5" stroke="#111" stroke-width="1.08" fill="none" />
<line x1="533.1" y1="151.2" x2="538.5" y2="148.8" stroke="#111" stroke-width="2.03"/>
<line x1="537.5" y1="154.2" x2="544.3" y2="151.3" stroke="#111" stroke-width="2.03"/>
<path d="M303,157.8 C296,163 290,169 286.6,171.8 C277,176 265,181.5 257,186.6 C250,191 246,193.5 243,196.6 C238.5,201 235.5,206 233.8,210.7" stroke="#111" stroke-width="1.35" fill="none" />
<path d="M233.8,210.7 L238.7,213.2 L238.7,218.2 L231.3,215.7 C228.5,220 227,224 226.3,228.1 C224.8,235 224.3,241 224.5,247 C224.5,252 225.3,256 227,259.5 C230,265 236,268.5 243,271 C247,272.3 250.5,272.3 254,271 C262,267.5 268.5,261.5 274,254.5" stroke="#111" stroke-width="1.35" fill="none" />
<path d="M288,174.5 C279,178.5 267,184 259.5,188.8 C252,193.5 248.5,196 245.5,199 C241,203.5 238.5,208 236.8,212" stroke="#111" stroke-width="0.94" fill="none" />
<path d="M233.5,217.5 C230.8,222 229.3,226 228.7,229.5 C227.2,236 226.8,242 227,247.5 C227.2,254 229,259 233,262.5" stroke="#111" stroke-width="0.94" fill="none" />
<ellipse cx="256.8" cy="186.8" rx="1.3" ry="1.3" stroke="#111" stroke-width="1.08" fill="none"/>
<path d="M231.3,215.7 L231.3,219.5 L238.7,222 L238.7,218.2" stroke="#111" stroke-width="0.94" fill="none" />
<path d="M295,183 C291,186 288,187 284.3,188.3 C278,190.5 272.5,192.5 267.8,194.9 C261,198.5 255,204 251.2,209.9 C247,216.5 243.5,222.5 241.2,228.1 C239,233 237.8,236 236.5,240.5 C235.2,246 235,252 237,256.5 C240,263 245,267.5 250,269.2" stroke="#111" stroke-width="1.22" fill="none" />
<path d="M301,190.5 C298,192.5 296,193.8 292.6,194.9 C285,197.3 278.5,199 272.7,201.6 C267,204.5 262.5,207.5 259.5,211.5 C256.5,215.5 255,219 253.7,223.1 C252,228 249.5,231.5 246.2,234.7 C243.5,237 240.5,238.5 237.5,238.8" stroke="#111" stroke-width="1.22" fill="none" />
<path d="M244.5,207.5 L249.8,210.5 M234.5,211 L236,212" stroke="#111" stroke-width="0.94" fill="none" />
<line x1="262.5" y1="218.3" x2="263.3" y2="218.7" stroke="#111" stroke-width="1.35"/>
<line x1="287.0" y1="203.5" x2="287.8" y2="203.9" stroke="#111" stroke-width="1.35"/>
<line x1="243.5" y1="233.0" x2="244.3" y2="233.4" stroke="#111" stroke-width="1.35"/>
<line x1="225.8" y1="215.0" x2="226.6" y2="215.4" stroke="#111" stroke-width="1.35"/>
<line x1="224.0" y1="240.0" x2="224.5" y2="243.0" stroke="#111" stroke-width="1.76"/>
<path d="M279.9,214.1 C272,215.5 266,222 265.2,229.5 C264.5,236 265.5,241 267.5,244.5" stroke="#111" stroke-width="1.08" fill="none" />
<path d="M260.5,238.5 L268,243.5" stroke="#111" stroke-width="0.81" fill="none" />
<path d="M290.7,215.8 C281,216.5 273.5,224.5 272.4,235 C271.6,242.5 272.5,247 273.5,250 C275.5,253.5 278,255 281.5,255" stroke="#111" stroke-width="1.35" fill="none" />
<path d="M290.7,215.8 C295,215 300,216 304.8,219.1" stroke="#111" stroke-width="1.22" fill="none" />
<path d="M304.8,219.1 C295.5,221 288,229 286.5,238.5 C285.5,245 285.3,251 285.5,256.5" stroke="#111" stroke-width="1.35" fill="none" />
<path d="M299.5,218.3 C290.5,220 283.5,228 282,237.5 C281.3,243.5 281.2,249.5 281.5,255" stroke="#111" stroke-width="0.94" fill="none" />
<path d="M277.6,226.5h0.1 M281.2,224.2h0.1 M279.9,233.0h0.1 M274.6,237.2h0.1 M274.4,235.0h0.1 M278.7,246.8h0.1 M275.4,228.7h0.1 M280.9,250.4h0.1 M280.3,233.9h0.1 M284.7,223.4h0.1 M283.4,230.7h0.1 M277.4,246.5h0.1 M276.0,239.4h0.1 M281.0,233.2h0.1 M280.0,223.9h0.1 M274.7,228.2h0.1 M281.5,234.8h0.1 M277.5,239.6h0.1 M279.0,231.0h0.1 M282.7,243.0h0.1 M276.7,239.2h0.1 M279.8,248.3h0.1 M282.0,230.6h0.1 M284.8,225.5h0.1 M278.6,244.7h0.1 M275.7,236.7h0.1 M274.4,242.0h0.1 M282.4,239.2h0.1 M283.6,231.4h0.1 M281.6,239.8h0.1 M280.4,235.7h0.1 M283.2,250.3h0.1 M279.2,241.9h0.1 M274.7,243.0h0.1 M281.1,251.8h0.1 M283.0,230.5h0.1 M278.2,242.1h0.1 M274.2,235.9h0.1 M274.6,245.0h0.1 M275.4,229.4h0.1 M278.3,248.1h0.1 M274.9,235.5h0.1 M280.0,248.5h0.1 M283.0,247.9h0.1 M277.1,234.5h0.1 M277.9,248.5h0.1 M284.5,226.5h0.1 M275.9,229.0h0.1 M276.6,236.5h0.1 M280.5,229.9h0.1 M274.0,234.6h0.1 M278.1,239.0h0.1 M284.5,242.7h0.1 M279.7,240.5h0.1 M281.4,223.6h0.1 M283.9,245.4h0.1 M283.6,245.9h0.1 M278.3,234.0h0.1 M275.1,241.0h0.1 M276.3,226.9h0.1 M277.7,223.6h0.1 M275.1,232.9h0.1 M274.3,248.2h0.1 M280.8,226.5h0.1 M276.8,232.4h0.1" stroke="#555" stroke-width="0.81" fill="none" />
<path d="M285.5,256.5 L285.8,281 L304.3,289.2 L336.9,271.8 L336.9,241.4" stroke="#111" stroke-width="1.35" fill="none" />
<path d="M287.3,258 L287.5,279.5" stroke="#111" stroke-width="0.81" fill="none" />
<path d="M303.2,289.2 L303.1,243.1 C303.5,238 306.5,233.5 311.4,231.5 C315,230 318.5,229.6 321.3,229.9 C325.5,230.5 328.5,232 331,234.5 C334,237.5 336.3,240.2 336.9,241.4" stroke="#111" stroke-width="1.35" fill="none" />
<path d="M305.8,288 L305.8,244 C306.2,239.5 308.5,236 312.5,233.8" stroke="#111" stroke-width="0.81" fill="none" />
<path d="M304.8,219.1 C309,219.3 315,220.5 321.3,221.6 L334.6,229.9 L334.4,234.5 L331.5,234.8 M321.3,221.6 L321.3,226 L328.5,230.5" stroke="#111" stroke-width="1.22" fill="none" />
<path d="M286.5,238.5 C289,232 293,226 299,222.5" stroke="#111" stroke-width="0.00" fill="none" />
<path d="M309.7,253.1 L331.3,244 L331.6,249.5 L329.6,250.3 L329.8,254 L332.3,253 L332.9,259.7 L311.4,268.8 Z" stroke="#111" stroke-width="1.22" fill="none" />
<path d="M311.4,268.8 L311.5,270.3 L333,261.2 L332.9,259.7" stroke="#111" stroke-width="0.94" fill="none" />
<ellipse cx="322.2" cy="256.7" rx="2.9" ry="2.6" stroke="#111" stroke-width="1.22" fill="none" transform="rotate(-20 322.2 256.7)"/>
<ellipse cx="289.5" cy="258.8" rx="1.3" ry="1.5" stroke="#111" stroke-width="0.94" fill="none"/>
<path d="M303.2,275.5 L298,273 M303.2,282 L288,275.5" stroke="#111" stroke-width="0.81" fill="none" />
<path d="M307.3,269.3 L307.3,286.5" stroke="#111" stroke-width="0.94" fill="none" />
<path d="M287.7,270 L302.6,275.3 M287.7,270 L287.7,277" stroke="#111" stroke-width="0.81" fill="none" />
<line x1="297.5" y1="266.5" x2="300.3" y2="267.8" stroke="#111" stroke-width="1.08"/>
<line x1="270.5" y1="271.5" x2="275.5" y2="274.0" stroke="#111" stroke-width="2.29"/>
<ellipse cx="276.3" cy="274.5" rx="1.0" ry="1.3" stroke="#111" stroke-width="0.81" fill="none"/>
<path d="M270.6,283 L273,282.2 L276.6,283.8 L276.6,296.5 L273.8,297.5 L270.6,296 Z M273.3,285 L273.5,294.5 M275,285.5 L275,295" stroke="#111" stroke-width="1.08" fill="none" />
<line x1="261.0" y1="300.5" x2="266.0" y2="298.5" stroke="#111" stroke-width="0.81"/>
<line x1="265.5" y1="299.8" x2="268.5" y2="298.5" stroke="#111" stroke-width="2.03"/>
<line x1="272.0" y1="272.8" x2="272.8" y2="273.4" stroke="#111" stroke-width="0.00"/>
<line x1="313.0" y1="278.3" x2="313.0" y2="300.0" stroke="#111" stroke-width="0.68"/>
<line x1="278.0" y1="292.5" x2="292.0" y2="287.0" stroke="#111" stroke-width="0.68"/>
<path d="M303.2,154.9 L291.6,162.4 M303.2,154.9 L305.7,150.8 C307,149.5 308.5,149.3 309.8,149.9 L323.1,157.4 C326,159.5 328,161.5 328.9,164 L328,186.4 C327.5,188.5 325.5,190 323.1,189.7 L318,188" stroke="#111" stroke-width="1.35" fill="none" />
<path d="M305.5,155 L308.8,152.3 L321.4,159.9 C324,162 325.8,164 326.4,166.5 L325.6,184.8" stroke="#111" stroke-width="0.94" fill="none" />
<path d="M303.2,154.9 L303.2,160 M305.5,155 L305.5,161" stroke="#111" stroke-width="0.94" fill="none" />
<path d="M292.5,163.5 C296,168 298,170.5 301,171.5 L320.5,166.5" stroke="#111" stroke-width="0.94" fill="none" />
<path d="M301,171.5 L301.5,186 C302.5,189 304,190.5 306.5,191" stroke="#111" stroke-width="0.94" fill="none" />
<ellipse cx="313.4" cy="185.6" rx="2.4" ry="2.4" stroke="#111" stroke-width="1.22" fill="none"/>
<ellipse cx="307.3" cy="183.1" rx="1.9" ry="1.2" stroke="#111" stroke-width="1.08" fill="none" transform="rotate(-30 307.3 183.1)"/>
<ellipse cx="316.5" cy="167.5" rx="1.0" ry="1.3" stroke="#111" stroke-width="0.81" fill="none"/>
<ellipse cx="323.0" cy="179.0" rx="0.9" ry="1.2" stroke="#111" stroke-width="0.81" fill="none"/>
<path d="M304,174.5 l1.5,-0.6 m1,-0.4 l2,-0.8 m1,-0.4 l1.5,-0.6 m1,-0.4 l2.5,-1 m1,-0.4 l2,-0.8" stroke="#444" stroke-width="1.22" fill="none" />
<path d="M306,178.5 l2,-0.8 m1,-0.4 l1.5,-0.6 m1,-0.4 l2.5,-1 m0.8,-0.3 l1.6,-0.6" stroke="#444" stroke-width="1.22" fill="none" />
<path d="M318.5,177 L318.8,183.5 L321.5,184.5" stroke="#111" stroke-width="0.94" fill="none" />
<path d="M290.5,169 C291.5,166.5 294,166.5 294.5,168.5 M292.5,164.5 L294.5,167.5 L297.5,166.5" stroke="#111" stroke-width="1.08" fill="none" />
<ellipse cx="292.0" cy="170.5" rx="1.0" ry="1.0" stroke="#111" stroke-width="0.68" fill="#333"/>
<ellipse cx="294.5" cy="170.3" rx="0.8" ry="0.8" stroke="#111" stroke-width="0.54" fill="#333"/>
<path d="M295,160.5 L297.5,163.5 M297.4,158.2 L297.4,161" stroke="#111" stroke-width="0.81" fill="none" />
<line x1="297.4" y1="131.0" x2="297.4" y2="158.2" stroke="#111" stroke-width="0.68" stroke-dasharray="5 1.5 1 1.5"/>
<line x1="312.3" y1="137.5" x2="312.3" y2="165.7" stroke="#111" stroke-width="0.68" stroke-dasharray="5 1.5 1 1.5"/>
<line x1="299.0" y1="143.0" x2="312.3" y2="137.5" stroke="#111" stroke-width="0.68"/>
<path d="M283.5,186 C286,187.5 288,189 290,191" stroke="#111" stroke-width="0.94" fill="none" />
<path d="M288.2,189.7 L299,195.5" stroke="#111" stroke-width="2.16" fill="none" />
<path d="M299,195.5 C301.5,196.5 303,198.5 304,200.5" stroke="#111" stroke-width="1.22" fill="none" />
<line x1="283.5" y1="188.3" x2="284.5" y2="188.8" stroke="#111" stroke-width="1.62"/>
<path d="M311,190.5 C309.5,194 309,200 309.5,212" stroke="#111" stroke-width="1.08" fill="none" />
<path d="M336.2,198.1 L336.2,193.6 C336.4,189.6 344.4,189.6 344.59999999999997,193.6 L344.59999999999997,198.1 C342.4,199.9 338.4,199.9 336.2,198.1 Z" stroke="#111" stroke-width="1.35" fill="#fff" />
<path d="M336.2,195.6 C338.4,197.4 342.4,197.4 344.59999999999997,195.6" stroke="#111" stroke-width="0.81" fill="none" />
<path d="M338.9,191.4 C337.9,193.1 337.59999999999997,194.6 337.59999999999997,196.1" stroke="#111" stroke-width="0.68" fill="none" />
<path d="M346.3,203.7 L346.3,199.2 C346.5,195.2 354.5,195.2 354.7,199.2 L354.7,203.7 C352.5,205.5 348.5,205.5 346.3,203.7 Z" stroke="#111" stroke-width="1.35" fill="#fff" />
<path d="M346.3,201.2 C348.5,203.0 352.5,203.0 354.7,201.2" stroke="#111" stroke-width="0.81" fill="none" />
<path d="M349.0,197.0 C348.0,198.7 347.7,200.2 347.7,201.7" stroke="#111" stroke-width="0.68" fill="none" />
<line x1="341.3" y1="179.8" x2="341.3" y2="186.4" stroke="#333" stroke-width="1.89"/>
<polygon points="339.7,186.4 342.90000000000003,186.4 341.3,183.8" fill="#111"/>
<path d="M340.3,180.8 h2 M340.3,182.10000000000002 h2 M340.3,183.4 h2" stroke="#fff" stroke-width="0.68" fill="none" />
<line x1="350.8" y1="184.0" x2="350.8" y2="192.0" stroke="#333" stroke-width="1.89"/>
<polygon points="349.2,192 352.40000000000003,192 350.8,189.4" fill="#111"/>
<path d="M349.8,185 h2 M349.8,186.3 h2 M349.8,187.6 h2" stroke="#fff" stroke-width="0.68" fill="none" />
<path d="M336.3,197 C332,198.5 329,201 327.5,204.5" stroke="#111" stroke-width="1.22" fill="none" />
<path d="M346.3,204 C343,205 340,207 338.5,209" stroke="#111" stroke-width="1.22" fill="none" />
<line x1="343.2" y1="199.5" x2="343.2" y2="219.0" stroke="#111" stroke-width="0.94"/>
<line x1="344.4" y1="199.5" x2="344.4" y2="219.5" stroke="#111" stroke-width="0.94"/>
<line x1="350.5" y1="205.5" x2="350.5" y2="226.0" stroke="#111" stroke-width="1.76"/>
<path d="M331.6,217 L336.5,214.8 L357.1,224.5 L357.1,229 L352.3,231.5 L331.6,221.8 Z" stroke="#111" stroke-width="1.35" fill="#fff" />
<path d="M331.6,217 L352.3,226.7 L357.1,224.5 M352.3,226.7 L352.3,231.5" stroke="#111" stroke-width="1.08" fill="none" />
<ellipse cx="358.5" cy="225.0" rx="1.6" ry="1.9" stroke="#111" stroke-width="1.22" fill="none"/>
<ellipse cx="353.5" cy="230.6" rx="1.6" ry="1.9" stroke="#111" stroke-width="1.22" fill="none"/>
<path d="M341.5,216.5 L341.5,221.5 L345,223 M343,213 L343,219 M347,219.5 L347,224" stroke="#111" stroke-width="1.08" fill="none" />
<line x1="343.5" y1="210.0" x2="343.5" y2="221.0" stroke="#111" stroke-width="1.76"/>
<path d="M397.1,168.4 L373.6,179.6 C372.4,180.3 372.4,181.3 373.5,182.1 L390.8,193.5 C392,194.5 392,195.5 390.8,196.3 L375.7,205.7" stroke="#111" stroke-width="1.62" fill="none" />
<path d="M403.8,169 L381.4,180.2 L396.6,191.5 C397.8,192.5 398,196.3 396.5,197.5 L383.8,206.9" stroke="#111" stroke-width="1.62" fill="none" />
<ellipse cx="398.5" cy="167.6" rx="1.9" ry="1.5" stroke="#111" stroke-width="1.22" fill="#fff" transform="rotate(-25 398.5 167.6)"/>
<ellipse cx="405.3" cy="168.2" rx="1.9" ry="1.5" stroke="#111" stroke-width="1.22" fill="#fff" transform="rotate(-25 405.3 168.2)"/>
<line x1="375.7" y1="205.7" x2="372.5" y2="207.5" stroke="#111" stroke-width="2.70"/>
<line x1="383.8" y1="206.9" x2="380.5" y2="209.0" stroke="#111" stroke-width="2.70"/>
<polygon points="368.5,209.8 373.3,205.9 374.3,208.6" fill="#111"/>
<polygon points="376.5,211.3 381.3,207.4 382.3,210.1" fill="#111"/>
<line x1="368.5" y1="209.8" x2="352.0" y2="218.5" stroke="#111" stroke-width="0.68"/>
<line x1="376.5" y1="211.3" x2="361.0" y2="221.5" stroke="#111" stroke-width="0.68"/>
<path d="M211.5,222.0 L219.7,225.5 L218.5,229.7 L210.8,226.0 Z" stroke="#111" stroke-width="1.35" fill="none" />
<path d="M212.6,223.4 L218.4,226.0 L217.7,228.3 L212.0,225.6 Z" stroke="#111" stroke-width="0.68" fill="none" />
<line x1="219.7" y1="225.5" x2="229.0" y2="220.5" stroke="#111" stroke-width="0.68" stroke-dasharray="4 1.5 1 1.5"/>
<path d="M42.3,241.1 C50,234 58,231.5 67.2,229.9 L80,227.4 L133.1,215.8 L138,212.4 L157.1,223.2 L156.3,230.7 L119.8,266.3 L109.5,279.6 C106,285 103,290 99.5,293.3 C96,296.5 91,297.8 85.8,297.5 C78,296 70,293.5 63.4,290.8 C54,286.5 45,280 39.8,274.7 C35.5,270 33.2,265 33.6,259.7 C34.5,253 38,246 42.3,241.1 Z" stroke="#111" stroke-width="1.49" fill="none" />
<path d="M152.3,230.9 L112,270" stroke="#111" stroke-width="1.76" fill="none" />
<path d="M156.3,230.7 L119.8,266.3" stroke="#111" stroke-width="1.62" fill="none" />
<path d="M134.7,216.8 L153,226.6 L152.3,230.9 M133.1,215.8 L134.7,216.8" stroke="#111" stroke-width="1.22" fill="none" />
<path d="M153,226.6 L157.1,223.2" stroke="#111" stroke-width="0.94" fill="none" />
<path d="M42.3,241.1 C44,243 47,245.5 52,248 L80,261.5 C86,264.5 90.5,266.5 93.3,268.4 C90,274 87,282 85.8,289.6 L85.8,297.5" stroke="#111" stroke-width="1.22" fill="none" />
<path d="M93.3,268.4 C99,267.3 104,266.5 108,268.5 C111,270 112,271 112,270" stroke="#111" stroke-width="1.08" fill="none" />
<path d="M95.5,268 C93.5,272 91,278 89.5,284" stroke="#111" stroke-width="0.68" fill="none" />
<path d="M103.2,258.9 L148.8,225.7 M104,260.3 L149.6,227.1" stroke="#111" stroke-width="0.94" fill="none" />
<path d="M96.5,265.5 L99.5,263.5 M97,267.5 L100,265" stroke="#111" stroke-width="0.81" fill="none" />
<path d="M36,266.5 C38,271.5 43,277 50,282 C58,287.5 68,291.5 78,293.5 C84,294.3 90,294 95,291.5" stroke="#111" stroke-width="0.81" fill="none" />
<line x1="86.0" y1="290.5" x2="86.0" y2="292.5" stroke="#111" stroke-width="1.62"/>
<line x1="41.5" y1="272.3" x2="42.0" y2="273.8" stroke="#111" stroke-width="1.35"/>
<path d="M47.599999999999994,251 L55.3,254.6 C56.099999999999994,255 56.199999999999996,255.6 56.0,256.5 L54.599999999999994,262.3 C54.3,263 53.8,263.1 53.099999999999994,262.8 L46.099999999999994,259.2 C45.5,258.8 45.4,258.3 45.5,257.5 L46.599999999999994,251.8 C46.8,251 47.099999999999994,250.8 47.599999999999994,251 Z" stroke="#111" stroke-width="1.35" fill="none" />
<path d="M48.5,253 L54.3,255.8 L53.199999999999996,261 L47.4,258 Z" stroke="#111" stroke-width="0.94" fill="none" />
<path d="M58.3,257 L66,260.6 C66.8,261 66.9,261.6 66.7,262.5 L65.3,268.3 C65,269 64.5,269.1 63.8,268.8 L56.8,265.2 C56.2,264.8 56.1,264.3 56.2,263.5 L57.3,257.8 C57.5,257 57.8,256.8 58.3,257 Z" stroke="#111" stroke-width="1.35" fill="none" />
<path d="M59.2,259 L65,261.8 L63.9,267 L58.1,264 Z" stroke="#111" stroke-width="0.94" fill="none" />
<path d="M69.1,264.3 L76.8,267.90000000000003 C77.6,268.3 77.7,268.90000000000003 77.5,269.8 L76.1,275.6 C75.8,276.3 75.3,276.40000000000003 74.6,276.1 L67.6,272.5 C67.0,272.1 66.89999999999999,271.6 67.0,270.8 L68.1,265.1 C68.3,264.3 68.6,264.1 69.1,264.3 Z" stroke="#111" stroke-width="1.35" fill="none" />
<path d="M70.0,266.3 L75.8,269.1 L74.7,274.3 L68.89999999999999,271.3 Z" stroke="#111" stroke-width="0.94" fill="none" />
<path d="M15.4,270.4 L21.9,272.2 L20.8,278.1 L14.2,276.4 Z" stroke="#111" stroke-width="1.62" fill="none" />
<path d="M16.7,272.3 L20.0,273.2 L19.4,276.2 L16.1,275.3 Z" stroke="#111" stroke-width="0.94" fill="none" />
<path d="M25.5,276.9 L32.0,279.3 L30.2,284.7 L24.3,282.5 Z" stroke="#111" stroke-width="1.62" fill="none" />
<path d="M26.8,278.9 L30.0,280.1 L29.1,282.8 L26.1,281.7 Z" stroke="#111" stroke-width="0.94" fill="none" />
<ellipse cx="36.3" cy="285.0" rx="2.6" ry="3.1" stroke="#111" stroke-width="1.62" fill="none" transform="rotate(-20 36.3 285.0)"/>
<ellipse cx="39.7" cy="286.5" rx="2.6" ry="3.1" stroke="#111" stroke-width="1.62" fill="#fff" transform="rotate(-20 39.7 286.5)"/>
<path d="M35.3,282.2 L38.8,283.6 M37,288 L40.5,289.5" stroke="#111" stroke-width="1.35" fill="none" />
<ellipse cx="39.9" cy="286.6" rx="1.1" ry="1.5" stroke="#111" stroke-width="1.22" fill="#333" transform="rotate(-20 39.9 286.6)"/>
<ellipse cx="36.2" cy="285.0" rx="0.9" ry="1.3" stroke="#111" stroke-width="1.08" fill="#333" transform="rotate(-20 36.2 285.0)"/>
<path d="M5.9,276 L6.5,277.2 L38,297.1 L39.3,296.3" stroke="#111" stroke-width="1.08" fill="none" />
<line x1="21.4" y1="289.4" x2="21.2" y2="287.8" stroke="#111" stroke-width="1.08"/>
<line x1="43.0" y1="283.5" x2="57.0" y2="276.0" stroke="#111" stroke-width="0.81"/>
<path d="M51,322 L54,319 L61.5,320.5 L63.4,323 L63.2,326.8 L58,329 L51.5,327 Z" stroke="#111" stroke-width="1.22" fill="none" />
<path d="M51,322 L57.5,323.8 L63.4,323 M57.5,323.8 L58,329 M55,321 L55.3,323" stroke="#111" stroke-width="0.94" fill="none" />
<path d="M61,312.4 C67,316 69.5,321 68.8,326 C68,331 64.5,334.5 59.7,336.3" stroke="#111" stroke-width="1.22" fill="none" stroke-dasharray="3.2 2.2" />
<line x1="70.5" y1="326.0" x2="79.0" y2="326.0" stroke="#111" stroke-width="1.08"/>
<polygon points="83.5,326.0 79.0,327.5 79.0,324.5" fill="#111"/>
<path d="M85.8,327.5 L88,325.5 L112.5,337 L112.5,341.5 L109.8,343.5 L85.8,332 Z" stroke="#111" stroke-width="1.22" fill="none" />
<path d="M85.8,327.5 L109.8,339 L112.5,337 M109.8,339 L109.8,343.5" stroke="#111" stroke-width="0.94" fill="none" />
<path d="M90,319.5 L94,317.2 L107.5,323.8 L107.5,331.5 L103.5,333.8 L90,327 Z" stroke="#111" stroke-width="1.22" fill="#fff" />
<path d="M90,319.5 L103.5,326 L107.5,323.8 M103.5,326 L103.5,333.8" stroke="#111" stroke-width="0.94" fill="none" />
<line x1="91.3" y1="320.2" x2="91.3" y2="326.8" stroke="#111" stroke-width="0.94"/>
<line x1="92.8" y1="320.9" x2="92.8" y2="327.5" stroke="#111" stroke-width="0.94"/>
<line x1="94.2" y1="321.6" x2="94.2" y2="328.2" stroke="#111" stroke-width="0.94"/>
<line x1="95.6" y1="322.3" x2="95.6" y2="328.9" stroke="#111" stroke-width="0.94"/>
<line x1="97.1" y1="323.0" x2="97.1" y2="329.6" stroke="#111" stroke-width="0.94"/>
<line x1="98.5" y1="323.7" x2="98.5" y2="330.3" stroke="#111" stroke-width="0.94"/>
<line x1="100.0" y1="324.4" x2="100.0" y2="331.0" stroke="#111" stroke-width="0.94"/>
<line x1="101.5" y1="325.1" x2="101.5" y2="331.7" stroke="#111" stroke-width="0.94"/>
<line x1="102.9" y1="325.8" x2="102.9" y2="332.4" stroke="#111" stroke-width="0.94"/>
<line x1="88.3" y1="321.5" x2="88.3" y2="326.0" stroke="#111" stroke-width="1.89"/>
<ellipse cx="110.8" cy="330.8" rx="1.6" ry="1.2" stroke="#111" stroke-width="0.81" fill="#555"/>
<line x1="110.8" y1="332.0" x2="110.8" y2="337.0" stroke="#111" stroke-width="1.08"/>
<line x1="108.5" y1="345.0" x2="108.5" y2="353.0" stroke="#111" stroke-width="0.81" stroke-dasharray="2 1.5"/>
<path d="M106.8,306.5 L110.0,303.0 L114.3,305.0 L114.3,311.0 L111.0,314.5 L106.8,312.5 Z" stroke="#111" stroke-width="1.08" fill="#fff" />
<path d="M106.8,306.5 L111.0,308.5 L111.0,314.5 M111.0,308.5 L114.3,305.0" stroke="#111" stroke-width="0.94" fill="none" />
<path d="M107.39999999999999,307.8 L110.39999999999999,309.3 L110.39999999999999,313.5 L107.39999999999999,312.0 Z" stroke="#111" stroke-width="0.68" fill="#222" />
<path d="M111.8,309 L115.0,305.5 L119.3,307.5 L119.3,313.5 L116.0,317 L111.8,315 Z" stroke="#111" stroke-width="1.08" fill="#fff" />
<path d="M111.8,309 L116.0,311 L116.0,317 M116.0,311 L119.3,307.5" stroke="#111" stroke-width="0.94" fill="none" />
<path d="M112.39999999999999,310.3 L115.39999999999999,311.8 L115.39999999999999,316 L112.39999999999999,314.5 Z" stroke="#111" stroke-width="0.68" fill="#222" />
<path d="M128.8,307.9 L143.8,312.9 L130.8,326.8 L116.9,321.8 Z" stroke="#111" stroke-width="1.22" fill="none" />
<path d="M116.9,321.8 L117.0,323.3 L130.9,328.4 L130.8,326.8" stroke="#111" stroke-width="0.94" fill="none" />
<line x1="130.9" y1="328.4" x2="143.9" y2="314.4" stroke="#111" stroke-width="0.94"/>
<line x1="143.8" y1="312.9" x2="143.9" y2="314.4" stroke="#111" stroke-width="0.94"/>
<path d="M118.5,316 L124,309.8 L133,313 L132.8,318.5 L127,324.6 L118.3,321.3 Z" stroke="#111" stroke-width="1.22" fill="#fff" />
<path d="M118.5,316 L127.3,319.3 L133,313 M127.3,319.3 L127,324.6" stroke="#111" stroke-width="0.94" fill="none" />
<path d="M120,315.3 L124.5,310.8 L130.8,313.2 L126.6,317.8 Z" stroke="#111" stroke-width="0.81" fill="none" />
<path d="M119.3,317.8 L126.4,320.5 L126.2,323.3 L119.2,320.7 Z" stroke="#111" stroke-width="0.68" fill="#333" />
<path d="M121.3,314.8 L125.3,316.3 M122.5,313.6 L126.5,315.1 M123.7,312.4 L127.7,313.9" stroke="#111" stroke-width="0.81" fill="none" />
<path d="M134,312 L140,314.2 L137.5,317 M135.5,318.5 L137.5,319.3" stroke="#111" stroke-width="0.94" fill="none" />
<line x1="135.8" y1="299.0" x2="135.8" y2="308.0" stroke="#111" stroke-width="1.62"/>
<line x1="134.5" y1="309.5" x2="137.0" y2="310.3" stroke="#111" stroke-width="0.94"/>
<line x1="144.2" y1="295.5" x2="144.2" y2="311.0" stroke="#111" stroke-width="2.16"/>
<line x1="143.4" y1="296.0" x2="143.4" y2="310.0" stroke="#fff" stroke-width="0.54"/>
<line x1="143.0" y1="311.0" x2="145.5" y2="311.0" stroke="#111" stroke-width="1.08"/>
<text x="143.9" y="323.1" font-size="7" text-anchor="middle">*</text>
<line x1="143.8" y1="313.5" x2="143.8" y2="317.0" stroke="#111" stroke-width="0.68"/>
<path d="M128.7,281 L133.5,277.1 L149.5,281 L151,284.2 L150.8,288.5 L144.5,293.5 L129,288.5 Z" stroke="#111" stroke-width="1.22" fill="#fff" />
<path d="M128.7,281 L144.8,286 L151,284.2 M144.8,286 L144.5,293.5" stroke="#111" stroke-width="0.94" fill="none" />
<path d="M130.5,283.3 L143.3,287.3 L143.2,290.5 L130.6,286.5 Z" stroke="#111" stroke-width="0.81" fill="none" />
<path d="M131.5,284.9 L142.5,288.3 M131.5,286 L142.5,289.4" stroke="#111" stroke-width="0.81" fill="none" />
<path d="M134.5,278.5 L146,281.7 L144,284 " stroke="#111" stroke-width="0.81" fill="none" />
<line x1="144.3" y1="270.0" x2="144.3" y2="285.5" stroke="#111" stroke-width="1.49"/>
<ellipse cx="144.3" cy="268.6" rx="1.7" ry="1.1" stroke="#111" stroke-width="0.81" fill="#444"/>
<ellipse cx="144.3" cy="266.3" rx="1.4" ry="0.9" stroke="#111" stroke-width="0.94" fill="none"/>
<path d="M146,281 C150,279 155,281.5 158.5,280.5 C160.5,279.8 162,279 163.5,278.5" stroke="#111" stroke-width="1.08" fill="none" />
<path d="M164.7,297.2 L171.3,293.5 L174.2,290.3 L178.7,291.8 L180,294.3 L186.5,294 C188,294.5 188,296 186.8,296.6 L180.2,297 L178,300.2 L172,299.3 L166.5,300.8 C164.5,300.5 164,298.5 164.7,297.2 Z" stroke="#111" stroke-width="1.22" fill="#fff" />
<path d="M171.3,293.5 L178,295.3 L180,294.3 M178,295.3 L178,300.2 M174.2,290.3 L174.3,294.2" stroke="#111" stroke-width="0.94" fill="none" />
<ellipse cx="166.3" cy="299.0" rx="1.1" ry="1.4" stroke="#111" stroke-width="0.94" fill="none"/>
<ellipse cx="186.0" cy="295.4" rx="1.0" ry="1.2" stroke="#111" stroke-width="0.94" fill="none"/>
<ellipse cx="182.5" cy="292.0" rx="1.3" ry="1.0" stroke="#111" stroke-width="0.94" fill="none"/>
<ellipse cx="183.5" cy="298.0" rx="1.2" ry="0.9" stroke="#111" stroke-width="0.94" fill="none"/>
<line x1="175.9" y1="282.0" x2="175.9" y2="288.5" stroke="#111" stroke-width="1.76"/>
<line x1="174.6" y1="303.0" x2="174.6" y2="308.0" stroke="#111" stroke-width="0.68"/>
<line x1="174.6" y1="308.0" x2="157.7" y2="318.0" stroke="#111" stroke-width="0.68"/>
<line x1="157.7" y1="318.0" x2="157.7" y2="327.0" stroke="#111" stroke-width="0.68"/>
<path d="M107.5,355.7 L124.9,345 C126.5,341 128.5,337.5 130.8,334.8 C134,331.5 137,329.5 140.8,327.8 L206.4,304.9 L205,303.3 L210.6,299.1 L231.7,306.1 L231.7,313.2 L227.5,316" stroke="#111" stroke-width="1.49" fill="none" />
<path d="M205,303.3 L226,310.3 L231.7,306.1 M226,310.3 L226,316.5 L227.5,316" stroke="#111" stroke-width="1.08" fill="none" />
<path d="M226,316.5 C222,320 217,324 213.4,327.3 L200,346.6 L186,360 C184.5,361.5 183.5,362.3 182.9,363.2 C181.5,367 180.8,369.8 179.6,372.3 C178,375.5 175.5,378 173,379.8 C170,382 166.5,384.5 163,385.6 L149.8,384.8 L147.3,383 L145.6,384.8 L139.8,385.6 C136,384.5 133,383 129.9,381.4 C125,378.5 121,375.8 118.2,373.1 C116.5,370 116.3,367 115.8,364.9 C113.5,363 111,361.5 109.1,359.9 C108,358.5 107.5,357 107.5,355.7" stroke="#111" stroke-width="1.49" fill="none" />
<path d="M110,354.9 C112,358 115,360.5 118.2,362.4 L140.6,374 L148.1,379.8 L163,383.1 C166,381.8 169,380 171.3,378.1 C174,375.5 176.3,373 177.9,370.7 C179.3,367.5 180.3,365 181.3,362.4 L198,345.5 L211,327 C215,323 219,319.5 222.5,317" stroke="#111" stroke-width="1.22" fill="none" />
<path d="M113,354 C115,356.5 117.5,358.8 120.3,360.5 L142,371.6 L149,377 L162,380.5 C164.5,379.5 167.5,378 169.5,376.2 C172,374 174.3,371.5 175.5,369.5 C177,366.5 178,364 178.8,361.5 L195.5,344.5" stroke="#111" stroke-width="0.94" fill="none" />
<path d="M110,354.9 L126,346.5 C127.5,342.5 129.8,339 132.5,336.5 C135.5,333.8 138.5,332 142,330.5 L202.5,308.9 L221,315.5" stroke="#111" stroke-width="0.94" fill="none" />
<path d="M118.2,362.4 C118,365 118.5,368 120,370.5" stroke="#111" stroke-width="0.81" fill="none" />
<path d="M121,372.5 C127,376.5 133,380 139.5,382.3" stroke="#111" stroke-width="0.68" fill="none" stroke-dasharray="1.2 1.4" />
<path d="M148.7,343.7 L154.7,338.8 L215,311.9" stroke="#111" stroke-width="1.08" fill="none" />
<path d="M134.8,358.7 C140,356 146,352 150.5,347.5 C152,345.5 153,344 154.7,342.5 L213,316.5" stroke="#111" stroke-width="1.08" fill="none" />
<path d="M215,324.8 L170.6,347.7 C168,349 167,349.8 166.3,350.8 L156.4,364.9 C154,367.5 150,369.5 143.9,370.7" stroke="#111" stroke-width="1.22" fill="none" />
<path d="M134.8,358.7 L128.5,362 M129,352.5 L122.5,356 L126,359.5 L132,356" stroke="#111" stroke-width="0.94" fill="none" />
<path d="M166.3,350.8 L181.3,356.6 M160.5,359 L175.5,365.5 L173,374.8 M175.5,365.5 L181.3,356.6" stroke="#111" stroke-width="1.08" fill="none" />
<path d="M172.5,369.5 l1.2,-3.2 M168,357 l3,1.3 M176,360.5 l2.5,-3" stroke="#333" stroke-width="1.35" fill="none" />
<path d="M131.8,336.9 L135.5,335 L145.7,338.3 L145.7,346.5 L142,348.6 L131.8,345 Z" stroke="#111" stroke-width="1.35" fill="#fff" />
<path d="M131.8,336.9 L142,340.3 L145.7,338.3 M142,340.3 L142,348.6" stroke="#111" stroke-width="1.08" fill="none" />
<path d="M146,333.5 l3,-1.1 m1.5,-0.5 l3,-1.1 m1.5,-0.5 l3,-1.1 m6,-2.2 l3,-1.1 m1.5,-0.5 l3,-1.1 m1.5,-0.5 l3,-1.1 m1.5,-0.5 l3,-1.1 m1.5,-0.5 l3,-1.1" stroke="#444" stroke-width="0.81" fill="none" />
<path d="M176,322.5 l3,-1.1 m1.5,-0.5 l3,-1.1 m1.5,-0.5 l3,-1.1 m1.5,-0.5 l3,-1.1 m1.5,-0.5 l3,-1.1" stroke="#444" stroke-width="0.81" fill="none" />
<ellipse cx="155.0" cy="328.5" rx="0.5" ry="0.4" stroke="#111" stroke-width="0.68" fill="none"/>
<ellipse cx="158.0" cy="327.5" rx="0.5" ry="0.4" stroke="#111" stroke-width="0.68" fill="none"/>
<ellipse cx="161.0" cy="326.5" rx="0.5" ry="0.4" stroke="#111" stroke-width="0.68" fill="none"/>
<ellipse cx="156.0" cy="331.0" rx="0.5" ry="0.4" stroke="#111" stroke-width="0.68" fill="none"/>
<ellipse cx="159.0" cy="330.0" rx="0.5" ry="0.4" stroke="#111" stroke-width="0.68" fill="none"/>
<ellipse cx="162.0" cy="329.0" rx="0.5" ry="0.4" stroke="#111" stroke-width="0.68" fill="none"/>
<ellipse cx="150.0" cy="372.5" rx="0.9" ry="0.7" stroke="#111" stroke-width="0.94" fill="none"/>
<ellipse cx="155.0" cy="377.0" rx="0.9" ry="0.7" stroke="#111" stroke-width="0.94" fill="none"/>
<ellipse cx="160.0" cy="373.5" rx="0.9" ry="0.7" stroke="#111" stroke-width="0.94" fill="none"/>
<ellipse cx="154.5" cy="369.5" rx="0.9" ry="0.7" stroke="#111" stroke-width="0.94" fill="none"/>
<ellipse cx="165.0" cy="371.0" rx="0.9" ry="0.7" stroke="#111" stroke-width="0.94" fill="none"/>
<ellipse cx="155.0" cy="373.3" rx="1.7" ry="1.3" stroke="#111" stroke-width="0.94" fill="none"/>
<path d="M113,356.5 l2.5,1.3 M122.5,349.5 l3.5,1 M118,352 l1,1.5 M127,364.5 l2.5,1.5 M131,361 l4,2 M138,366 l3,1.5" stroke="#333" stroke-width="1.22" fill="none" />
<path d="M124,360 L133,364.5 L138,362 M133,364.5 L133,367" stroke="#111" stroke-width="0.81" fill="none" />
<line x1="176.8" y1="361.1" x2="216.2" y2="371.0" stroke="#111" stroke-width="0.68"/>
<line x1="225.5" y1="323.5" x2="229.5" y2="325.5" stroke="#111" stroke-width="2.16"/>
<line x1="234.0" y1="321.0" x2="238.0" y2="322.8" stroke="#111" stroke-width="2.16"/>
<line x1="186.0" y1="378.5" x2="190.0" y2="380.5" stroke="#111" stroke-width="2.43"/>
<line x1="181.0" y1="376.0" x2="185.0" y2="378.0" stroke="#111" stroke-width="0.68"/>
<line x1="154.7" y1="386.5" x2="154.7" y2="390.0" stroke="#111" stroke-width="0.68"/>
<path d="M153.2,390.8 h3 l0.3,3.2 h-3.6 Z" stroke="#111" stroke-width="1.22" fill="none" />
<polygon points="154.7,396 153,399.6 156.4,399.6" fill="#111"/>
<path d="M208.2,353.2 L215.7,345.8 L234.8,354.9 L234.8,362.3 L228.5,368.3 L223.2,365.7 L214.9,362.3 L208.6,358 Z" stroke="#111" stroke-width="1.49" fill="#fff" />
<path d="M208.2,353.2 L228.1,361.8 L234.8,354.9 M228.1,361.8 L228.5,368.3" stroke="#111" stroke-width="1.08" fill="none" />
<path d="M214.9,362.3 L214.9,358.5 L223.2,362 L223.2,365.7" stroke="#111" stroke-width="0.94" fill="none" />
<ellipse cx="214.5" cy="351.3" rx="1.6" ry="1.4" stroke="#111" stroke-width="1.08" fill="none"/>
<ellipse cx="219.5" cy="354.0" rx="0.9" ry="0.7" stroke="#111" stroke-width="0.94" fill="#333"/>
<path d="M217.4,368.1 L228.5,363.8 L239.8,364.8 L229.0,375.6 Z" stroke="#111" stroke-width="1.35" fill="#fff" />
<line x1="227.6" y1="374.9" x2="238.4" y2="364.7" stroke="#111" stroke-width="0.88"/>
<line x1="226.2" y1="374.2" x2="236.9" y2="364.5" stroke="#111" stroke-width="0.88"/>
<line x1="224.8" y1="373.4" x2="235.5" y2="364.4" stroke="#111" stroke-width="0.88"/>
<line x1="223.3" y1="372.7" x2="234.1" y2="364.3" stroke="#111" stroke-width="0.88"/>
<line x1="229.0" y1="375.6" x2="229.2" y2="377.0" stroke="#111" stroke-width="1.08"/>
<line x1="229.2" y1="377.0" x2="240.0" y2="366.2" stroke="#111" stroke-width="1.08"/>
<line x1="239.8" y1="364.8" x2="240.0" y2="366.2" stroke="#111" stroke-width="1.08"/>
<path d="M202.4,346.6 C202.6,352 203.5,356 204.9,359.9 C207,365 210.5,368.5 214.9,371.5 C219,376.5 223,382 228.1,386.4 C233,390 238,392.5 243.1,393.8 L249.7,393.8" stroke="#111" stroke-width="1.08" fill="none" stroke-dasharray="2.2 1.8" />
<line x1="240.6" y1="369.8" x2="249.5" y2="378.0" stroke="#111" stroke-width="1.35" stroke-dasharray="3 1.6"/>
<ellipse cx="250.3" cy="378.8" rx="1.1" ry="1.1" stroke="#111" stroke-width="0.68" fill="#222"/>
<line x1="233.9" y1="378.1" x2="242.2" y2="387.2" stroke="#111" stroke-width="1.35" stroke-dasharray="3 1.6"/>
<ellipse cx="243.0" cy="388.0" rx="1.1" ry="1.1" stroke="#111" stroke-width="0.68" fill="#222"/>
<path d="M289,313 L329.7,299.5 L349.4,307.1 C347,311 342,315.5 334.3,318.8 L315.7,324.6 L301,327 L289,320.5 Z" stroke="#111" stroke-width="0.00" fill="none" />
<path d="M288,312.5 L288,318.5 M288,312.5 L330,298.5 C333,297 335,297.8 337.5,299.3" stroke="#111" stroke-width="1.08" fill="none" />
<path d="M337.5,299.3 C340,301 341.5,303.5 344.5,305.5 L349.4,307.1 C348,311 343,316 334.3,319.3 L316,324.5" stroke="#111" stroke-width="1.22" fill="none" />
<path d="M297.5,316.5 L326.5,306.2 L334,309.8 L305,320.8 Z" stroke="#111" stroke-width="1.08" fill="none" />
<path d="M297.5,316.5 L297.8,320.5 L305.2,324.8 L305,320.8 M305.2,324.8 L334.2,313.6 L334,309.8" stroke="#111" stroke-width="0.94" fill="none" />
<path d="M300.5,317 L327,307.8 M303,319 L330.5,309 " stroke="#111" stroke-width="0.81" fill="none" />
<path d="M306,314 l2,-0.7 m1.5,-0.5 l2,-0.7 m1.5,-0.5 l2,-0.7 m1.5,-0.5 l2,-0.7 m1.5,-0.5 l2,-0.7" stroke="#333" stroke-width="1.49" fill="none" />
<path d="M308,317.3 l2,-0.7 m1.5,-0.5 l2,-0.7 m1.5,-0.5 l2,-0.7 m1.5,-0.5 l2,-0.7" stroke="#333" stroke-width="1.22" fill="none" />
<path d="M291.5,318.5 L295,316.5 L299.5,325.5 M294,320 L297.5,327 M300,328 L304,325.5" stroke="#111" stroke-width="1.08" fill="none" />
<path d="M326,303.5 L331,300.5 M330,303 L333.5,305 M332,300.5 L336,298" stroke="#111" stroke-width="1.08" fill="none" />
<line x1="322.0" y1="301.5" x2="326.0" y2="303.5" stroke="#111" stroke-width="1.76"/>
<line x1="328.0" y1="305.5" x2="332.0" y2="307.5" stroke="#111" stroke-width="1.62"/>
<line x1="293.0" y1="319.5" x2="296.0" y2="321.0" stroke="#111" stroke-width="1.62"/>
<path d="M316,324.5 L316,326.5 L332,322 M332,322 L334.5,319.5" stroke="#111" stroke-width="0.94" fill="none" />
<line x1="306.6" y1="325.5" x2="306.6" y2="327.5" stroke="#111" stroke-width="0.94"/>
<polygon points="306.6,323.3 305.1,326.8 308.1,326.8" fill="#111"/>
<text x="306.6" y="332.6" font-size="4.5" text-anchor="middle">4</text>
<line x1="288.0" y1="310.0" x2="288.0" y2="320.0" stroke="#111" stroke-width="0.68" stroke-dasharray="1.5 1.2"/>
<path d="M291.3,342.0 L329.7,328.0 L336.6,331.5 L306.4,346.6 Z" stroke="#111" stroke-width="1.22" fill="#fff" />
<line x1="292.5" y1="341.8" x2="305.5" y2="346.0" stroke="#111" stroke-width="1.08"/>
<line x1="295.2" y1="340.8" x2="307.7" y2="345.0" stroke="#111" stroke-width="1.08"/>
<line x1="297.9" y1="339.9" x2="309.9" y2="344.0" stroke="#111" stroke-width="1.08"/>
<line x1="300.5" y1="338.9" x2="312.0" y2="343.0" stroke="#111" stroke-width="1.08"/>
<line x1="303.2" y1="337.9" x2="314.2" y2="342.0" stroke="#111" stroke-width="1.08"/>
<line x1="305.9" y1="336.9" x2="316.4" y2="341.0" stroke="#111" stroke-width="1.08"/>
<line x1="308.6" y1="336.0" x2="318.6" y2="340.0" stroke="#111" stroke-width="1.08"/>
<line x1="311.2" y1="335.0" x2="320.8" y2="339.0" stroke="#111" stroke-width="1.08"/>
<line x1="313.9" y1="334.0" x2="322.9" y2="338.0" stroke="#111" stroke-width="1.08"/>
<line x1="316.6" y1="333.1" x2="325.1" y2="337.0" stroke="#111" stroke-width="1.08"/>
<line x1="319.3" y1="332.1" x2="327.3" y2="336.0" stroke="#111" stroke-width="1.08"/>
<line x1="322.0" y1="331.1" x2="329.5" y2="335.0" stroke="#111" stroke-width="1.08"/>
<line x1="324.6" y1="330.1" x2="331.6" y2="334.0" stroke="#111" stroke-width="1.08"/>
<line x1="327.3" y1="329.2" x2="333.8" y2="333.0" stroke="#111" stroke-width="1.08"/>
<line x1="330.0" y1="328.2" x2="336.0" y2="332.0" stroke="#111" stroke-width="1.08"/>
<line x1="295.1" y1="343.1" x2="331.4" y2="328.9" stroke="#111" stroke-width="0.94"/>
<line x1="298.9" y1="344.3" x2="333.1" y2="329.8" stroke="#111" stroke-width="0.94"/>
<line x1="302.6" y1="345.4" x2="334.9" y2="330.6" stroke="#111" stroke-width="0.94"/>
<line x1="291.3" y1="342.0" x2="289.0" y2="342.5" stroke="#111" stroke-width="1.08"/>
<path d="M348.5,252.2 C348,250.5 349.5,249.5 351,250 L357,250.5 C358.3,251.5 358.3,255 357,256.3 L351,256.8 C349.3,256.5 348.3,254.5 348.5,252.2 Z" stroke="#111" stroke-width="1.35" fill="#fff" />
<ellipse cx="350.3" cy="253.4" rx="1.3" ry="2.6" stroke="#111" stroke-width="1.08" fill="none"/>
<line x1="353.9" y1="246.5" x2="353.9" y2="248.3" stroke="#111" stroke-width="2.43"/>
<path d="M336.5,260 L347,255 M337.5,262.5 L348,257.3" stroke="#111" stroke-width="1.35" fill="none" />
<ellipse cx="337.0" cy="261.3" rx="0.9" ry="1.5" stroke="#111" stroke-width="1.08" fill="none" transform="rotate(-25 337.0 261.3)"/>
<line x1="340.0" y1="258.8" x2="343.5" y2="257.0" stroke="#111" stroke-width="2.97"/>
<path d="M336.9,262 L334,263.5 L334,268.5" stroke="#111" stroke-width="1.08" fill="none" />
<line x1="353.0" y1="256.8" x2="354.0" y2="265.0" stroke="#111" stroke-width="1.22"/>
<line x1="354.5" y1="256.8" x2="355.5" y2="265.0" stroke="#111" stroke-width="1.22"/>
<line x1="346.0" y1="259.0" x2="351.0" y2="265.0" stroke="#111" stroke-width="0.68" stroke-dasharray="2 1.5"/>
<path d="M345.4,269.2 L350.15,265.4 L357.75,266.35 L361.55,270.15 L360.6,275.85 L356.8,280.125 L350.15,280.6 L346.35,277.75 L344.45,273.95 Z" stroke="#111" stroke-width="1.49" fill="#fff" />
<ellipse cx="353.9" cy="273.0" rx="4.0" ry="4.4" stroke="#111" stroke-width="1.35" fill="none"/>
<ellipse cx="354.4" cy="273.3" rx="2.1" ry="2.4" stroke="#111" stroke-width="1.22" fill="none"/>
<ellipse cx="347.8" cy="272.1" rx="1.5" ry="1.9" stroke="#111" stroke-width="1.22" fill="none"/>
<ellipse cx="349.2" cy="277.8" rx="1.4" ry="1.4" stroke="#111" stroke-width="1.22" fill="none"/>
<ellipse cx="358.2" cy="268.7" rx="1.3" ry="1.3" stroke="#111" stroke-width="1.08" fill="none"/>
<path d="M350.15,265.4 L351.1,269.2 M357.75,266.35 L356.325,269.675 M360.6,275.85 L357.275,275.375 M346.35,277.75 L350.625,275.85" stroke="#111" stroke-width="1.22" fill="none" />
<path d="M344.45,273.95 L343.025,275.375 L344.45,278.225 L346.35,277.75" stroke="#111" stroke-width="1.22" fill="none" />
<path d="M350.625,266.825 L355.85,267.3 L354.9,268.82 L351.575,268.63 Z" stroke="#111" stroke-width="0.81" fill="#222" />
<path d="M358.225,273.95 L360.125,274.425 L357.275,278.51 L355.85,277.37 Z" stroke="#111" stroke-width="0.81" fill="#222" />
<path d="M346.825,274.425 L349.96,273.475 L350.625,275.375 L347.775,276.42 Z" stroke="#111" stroke-width="0.81" fill="#333" />
<path d="M345.5,268 L343.5,266.5 L344,263.5 M349,280.5 L348.5,283 L351.5,283.5" stroke="#111" stroke-width="1.22" fill="none" />
<line x1="369.8" y1="273.2" x2="375.0" y2="276.4" stroke="#111" stroke-width="2.70"/>
<line x1="362.5" y1="269.5" x2="368.0" y2="272.5" stroke="#111" stroke-width="0.68" stroke-dasharray="1.5 1.2"/>
<ellipse cx="443.8" cy="278.5" rx="31.0" ry="29.5" stroke="#111" stroke-width="1.22" fill="none" stroke-dasharray="4.5 3"/>
<path d="M429.9,275.8 L432.2,274 L451.5,282.5 L450,284.8 Z" stroke="#111" stroke-width="1.22" fill="#fff" />
<path d="M429.9,275.8 L429.9,280.3 L450,289.3 L450,284.8 M450,289.3 L451.5,287 L451.5,282.5" stroke="#111" stroke-width="1.22" fill="none" />
<line x1="437.7" y1="256.4" x2="437.7" y2="276.5" stroke="#111" stroke-width="1.22"/>
<line x1="440.7" y1="256.4" x2="440.7" y2="276.5" stroke="#111" stroke-width="1.22"/>
<path d="M437.7,256.4 C438.2,255.39999999999998 440.2,255.39999999999998 440.7,256.4" stroke="#111" stroke-width="1.08" fill="none" />
<line x1="439.2" y1="261.4" x2="439.2" y2="263.0" stroke="#222" stroke-width="2.16"/>
<line x1="439.2" y1="264.6" x2="439.2" y2="266.2" stroke="#222" stroke-width="2.16"/>
<line x1="439.2" y1="267.8" x2="439.2" y2="269.4" stroke="#222" stroke-width="2.16"/>
<line x1="439.2" y1="271.0" x2="439.2" y2="272.6" stroke="#222" stroke-width="2.16"/>
<line x1="445.5" y1="260.0" x2="445.5" y2="280.5" stroke="#111" stroke-width="1.22"/>
<line x1="448.5" y1="260.0" x2="448.5" y2="280.5" stroke="#111" stroke-width="1.22"/>
<path d="M445.5,260 C446,259 448,259 448.5,260" stroke="#111" stroke-width="1.08" fill="none" />
<line x1="447.0" y1="265.0" x2="447.0" y2="266.6" stroke="#222" stroke-width="2.16"/>
<line x1="447.0" y1="268.2" x2="447.0" y2="269.8" stroke="#222" stroke-width="2.16"/>
<line x1="447.0" y1="271.4" x2="447.0" y2="273.0" stroke="#222" stroke-width="2.16"/>
<line x1="447.0" y1="274.6" x2="447.0" y2="276.2" stroke="#222" stroke-width="2.16"/>
<ellipse cx="459.0" cy="265.7" rx="2.3" ry="1.5" stroke="#111" stroke-width="1.22" fill="#fff" transform="rotate(-30 459.0 265.7)"/>
<ellipse cx="464.5" cy="268.4" rx="2.3" ry="1.5" stroke="#111" stroke-width="1.22" fill="#fff" transform="rotate(-30 464.5 268.4)"/>
<ellipse cx="470.1" cy="272.1" rx="2.3" ry="1.5" stroke="#111" stroke-width="1.22" fill="#fff" transform="rotate(-30 470.1 272.1)"/>
<line x1="450.0" y1="276.5" x2="457.0" y2="272.0" stroke="#111" stroke-width="0.68"/>
<line x1="451.0" y1="271.5" x2="456.5" y2="268.0" stroke="#111" stroke-width="0.68"/>
<line x1="457.2" y1="271.3" x2="459.0" y2="272.2" stroke="#111" stroke-width="2.16"/>
<line x1="463.3" y1="274.5" x2="465.0" y2="275.4" stroke="#111" stroke-width="2.16"/>
<line x1="452.5" y1="268.7" x2="454.0" y2="269.4" stroke="#111" stroke-width="1.89"/>
<ellipse cx="409.5" cy="264.6" rx="1.7" ry="1.5" stroke="#111" stroke-width="0.94" fill="#444"/>
<path d="M415.5,266.3 A1.5 1.5 0 1 0 415.5,269" stroke="#111" stroke-width="1.22" fill="none" />
<line x1="418.0" y1="269.5" x2="422.0" y2="271.3" stroke="#111" stroke-width="0.81"/>
<line x1="423.0" y1="272.0" x2="427.0" y2="274.0" stroke="#111" stroke-width="2.56"/>
<line x1="453.5" y1="287.5" x2="454.0" y2="289.5" stroke="#111" stroke-width="2.43"/>
<ellipse cx="459.9" cy="292.4" rx="2.2" ry="1.5" stroke="#111" stroke-width="1.22" fill="#fff" transform="rotate(20 459.9 292.4)"/>
<line x1="456.0" y1="290.2" x2="457.7" y2="291.3" stroke="#111" stroke-width="0.94"/>
<ellipse cx="471.5" cy="191.5" rx="27.4" ry="24.0" stroke="#111" stroke-width="1.22" fill="none" stroke-dasharray="4.5 3"/>
<path d="M441,197.5 L445,196 L445.7,198" stroke="#111" stroke-width="0.94" fill="none" />
<path d="M466,176.5 L468.5,173.8 L475.5,173.5 L477.5,176 L477.3,180 L479,181 L478.5,183.5 L476.5,184.2 L476,187 L468.5,187.4 L467.5,184 L465.3,182.5 L465.3,179.5 Z" stroke="#111" stroke-width="1.35" fill="#fff" />
<path d="M468.5,173.8 L469,178 L476,177.5 L475.5,173.5 M469,178 L468.5,187.4 M476,177.5 L476,187" stroke="#111" stroke-width="0.94" fill="none" />
<ellipse cx="466.3" cy="181.0" rx="1.2" ry="1.5" stroke="#111" stroke-width="1.08" fill="none"/>
<ellipse cx="478.0" cy="182.2" rx="1.0" ry="1.2" stroke="#111" stroke-width="0.94" fill="none"/>
<path d="M467.3,187.4 L467.3,201 L468.5,202.5 L468.5,205 L471.5,205 L471.5,202.5 L472.7,201 L472.7,187.4" stroke="#111" stroke-width="1.22" fill="#fff" />
<line x1="467.3" y1="190.0" x2="472.7" y2="190.0" stroke="#111" stroke-width="1.08"/>
<line x1="467.3" y1="192.5" x2="472.7" y2="192.5" stroke="#111" stroke-width="1.08"/>
<line x1="467.3" y1="195.5" x2="472.7" y2="195.5" stroke="#111" stroke-width="1.08"/>
<line x1="467.3" y1="198.0" x2="472.7" y2="198.0" stroke="#111" stroke-width="1.08"/>
<line x1="467.3" y1="200.5" x2="472.7" y2="200.5" stroke="#111" stroke-width="1.08"/>
<path d="M468,209 L470.6,209 L470.6,217 L469.3,218.5 L468,217 Z" stroke="#111" stroke-width="1.08" fill="none" />
<line x1="457.4" y1="210.8" x2="457.4" y2="234.8" stroke="#111" stroke-width="1.22"/>
<line x1="461.5" y1="209.5" x2="461.5" y2="236.0" stroke="#111" stroke-width="1.22"/>
<path d="M461.5,234.8 L453.3,241.4 M457.4,230 L463,233 L466,230.5" stroke="#111" stroke-width="1.22" fill="none" />
<path d="M467.3,208.5 L470.6,208.5 L470.6,216.5 L467.3,216.5 Z" stroke="#111" stroke-width="1.22" fill="none" />
<path d="M469,216.5 C468.5,219 467.5,221.5 467.3,224.5 C467.2,229.5 469.5,232.4 472.8,232.4 C476.3,232.4 478,229.5 477.5,226.3 C477,223 473.5,220.5 470.5,218.5" stroke="#111" stroke-width="1.35" fill="none" />
<line x1="476.0" y1="216.5" x2="478.5" y2="218.3" stroke="#111" stroke-width="1.35" stroke-dasharray="2 1.4"/>
<line x1="473.5" y1="217.5" x2="475.0" y2="219.5" stroke="#111" stroke-width="1.08"/>
<path d="M523.0,173 h3.2 l0.5,2.4 h-4.2 Z" stroke="#111" stroke-width="1.08" fill="none" />
<line x1="524.6" y1="177.0" x2="524.6" y2="179.5" stroke="#111" stroke-width="0.94"/>
<ellipse cx="524.6" cy="181.3" rx="1.6" ry="1.0" stroke="#111" stroke-width="1.08" fill="none"/>
<line x1="524.6" y1="170.0" x2="524.6" y2="172.5" stroke="#111" stroke-width="0.81"/>
<path d="M522.0,186.8 L522.0,198.3 C523.1,199.6 526.1,199.6 527.2,198.3 L527.2,186.8 C526.1,185.6 523.1,185.6 522.0,186.8 Z" stroke="#111" stroke-width="1.35" fill="#fff" />
<path d="M522.0,189.5 C523.1,190.7 526.1,190.7 527.2,189.5 M522.0,186.8 C523.1,188 526.1,188 527.2,186.8" stroke="#111" stroke-width="0.94" fill="none" />
<path d="M522.8000000000001,185 L522.8000000000001,183.5 L526.4,183.5 L526.4,185" stroke="#111" stroke-width="0.94" fill="none" />
<ellipse cx="524.6" cy="203.0" rx="2.8" ry="1.4" stroke="#111" stroke-width="1.76" fill="none"/>
<path d="M521.4,208.5 L527.8000000000001,208.5 L527.8000000000001,214 L526.6,215 L526.6,217.3 L522.6,217.3 L522.6,215 L521.4,214 Z" stroke="#111" stroke-width="1.35" fill="#fff" />
<ellipse cx="524.6" cy="208.5" rx="3.2" ry="1.3" stroke="#111" stroke-width="1.22" fill="#fff"/>
<line x1="523.4" y1="209.8" x2="523.4" y2="214.5" stroke="#111" stroke-width="0.81"/>
<line x1="525.8" y1="209.8" x2="525.8" y2="214.5" stroke="#111" stroke-width="0.81"/>
<ellipse cx="524.6" cy="222.3" rx="2.8" ry="1.4" stroke="#111" stroke-width="1.76" fill="none"/>
<ellipse cx="523.8" cy="221.8" rx="0.0" ry="0.0" stroke="#111" stroke-width="1.08" fill="none"/>
<path d="M523.1,226.8 L524.6,225.5 L526.1,226.8 L524.6,228.3 Z" stroke="#111" stroke-width="1.08" fill="none" />
<path d="M522.5,228 L524.9000000000001,229.6 M524.9000000000001,228 L522.5,229.6" stroke="#111" stroke-width="1.08" fill="none" />
<path d="M523.7,230.3 C522.1,232 522.0,236 522.4000000000001,240.3 L525.0,240.3 C525.4000000000001,236 525.3000000000001,232 523.7,230.3 Z" stroke="#111" stroke-width="1.22" fill="#fff" />
<path d="M521.9000000000001,242.5 L521.9000000000001,262 C522.5,263.6 524.9000000000001,263.6 525.5,262 L525.5,242.5 C524.9000000000001,240.9 522.5,240.9 521.9000000000001,242.5 Z" stroke="#111" stroke-width="1.35" fill="#fff" />
<ellipse cx="516.7" cy="248.8" rx="1.5" ry="0.9" stroke="#111" stroke-width="0.94" fill="none"/>
<line x1="528.3" y1="258.8" x2="530.3" y2="257.8" stroke="#111" stroke-width="1.22"/>
<line x1="517.1" y1="264.3" x2="522.2" y2="267.0" stroke="#111" stroke-width="1.08"/>
<line x1="522.0" y1="266.8" x2="525.4" y2="267.6" stroke="#111" stroke-width="1.76"/>
<line x1="522.0" y1="268.8" x2="525.4" y2="269.6" stroke="#111" stroke-width="1.76"/>
<line x1="522.0" y1="270.8" x2="525.4" y2="271.6" stroke="#111" stroke-width="1.76"/>
<line x1="522.0" y1="272.8" x2="525.4" y2="273.6" stroke="#111" stroke-width="1.76"/>
<line x1="521.8" y1="266.0" x2="521.8" y2="274.0" stroke="#111" stroke-width="0.81"/>
<line x1="525.6" y1="266.0" x2="525.6" y2="274.0" stroke="#111" stroke-width="0.81"/>
<ellipse cx="523.4" cy="279.4" rx="2.3" ry="1.7" stroke="#111" stroke-width="1.62" fill="#fff"/>
<ellipse cx="523.4" cy="279.2" rx="1.0" ry="0.7" stroke="#111" stroke-width="0.81" fill="none"/>
<path d="M521.1,279.6 L521.1,281 C522.2,282.6 524.7,282.6 525.7,281 L525.7,279.6" stroke="#111" stroke-width="1.08" fill="none" />
<path d="M520.4000000000001,286 L520.4000000000001,291 C521.7,293 525.7,293 527.0,291 L527.0,286" stroke="#111" stroke-width="1.49" fill="#fff" />
<ellipse cx="523.7" cy="286.0" rx="3.3" ry="1.8" stroke="#111" stroke-width="1.49" fill="#fff"/>
<ellipse cx="523.7" cy="286.0" rx="1.8" ry="0.9" stroke="#111" stroke-width="0.94" fill="none"/>
<line x1="522.4" y1="288.0" x2="522.4" y2="292.0" stroke="#111" stroke-width="0.81"/>
<line x1="525.0" y1="288.0" x2="525.0" y2="292.0" stroke="#111" stroke-width="0.81"/>
<path d="M519.5,146.8 C515.5,147.5 513.6,149 513.4,152 L513.2,212 C513,215.5 511,217 505.5,217.2" stroke="#111" stroke-width="1.22" fill="none" stroke-dasharray="5 3" />
<path d="M496.4,211.4 C500,213 504,216 506.3,218.2 C509,221.5 510.8,225 511.3,228.5" stroke="#111" stroke-width="1.22" fill="none" />
<path d="M511.2,230 L511.1,291 C511.2,295 513,297 516.1,297.1" stroke="#111" stroke-width="1.22" fill="none" stroke-dasharray="5 3" />
<path d="M505,215 C507,216 509.5,218 511,220" stroke="#111" stroke-width="0.00" fill="none" />
<path d="M338.7,372 C338,360 343,349 350,341.9 C357,334 366,328.5 374.8,325.7 C383,322.5 391,320.5 399.6,320 C410,319.3 420,319.8 429.5,320.7" stroke="#111" stroke-width="1.22" fill="none" stroke-dasharray="4.5 3" />
<path d="M399.3,317.6 C385,320 370,327 358,337" stroke="#111" stroke-width="0.00" fill="none" />
<path d="M381.1,347.8 L388.6,345.4 C389.3,345.1 389.3,344.5 389.3,343.5 L389.3,335.9 L345.5,357.8 L353.7,361.5 L361.9,391.6 L367.4,391.6 L379.2,384.3" stroke="#111" stroke-width="1.42" fill="none" />
<line x1="381.1" y1="347.8" x2="378.0" y2="348.8" stroke="#111" stroke-width="2.70"/>
<path d="M420.6,326.5 L435.6,335.6 L435.6,343 C435.6,344.3 435,344.8 434,344.8 L424.6,344.8 L403,355.2" stroke="#111" stroke-width="1.42" fill="none" />
<line x1="420.6" y1="326.5" x2="417.5" y2="324.8" stroke="#111" stroke-width="2.97"/>
<path d="M413.5,337.6 L435,349.3 L435,357.8 L421.3,366.3 L404.3,366.3" stroke="#111" stroke-width="1.42" fill="none" />
<line x1="413.5" y1="337.6" x2="410.5" y2="336.0" stroke="#111" stroke-width="2.97"/>
<ellipse cx="400.5" cy="356.2" rx="2.1" ry="1.4" stroke="#111" stroke-width="1.22" fill="#fff" transform="rotate(-25 400.5 356.2)"/>
<ellipse cx="400.8" cy="366.3" rx="2.1" ry="1.4" stroke="#111" stroke-width="1.22" fill="#fff"/>
<line x1="404.3" y1="366.3" x2="408.0" y2="366.3" stroke="#111" stroke-width="2.70"/>
<line x1="395.2" y1="358.5" x2="396.5" y2="360.5" stroke="#111" stroke-width="2.03"/>
<line x1="395.5" y1="366.0" x2="397.0" y2="366.2" stroke="#111" stroke-width="2.03"/>
<path d="M373.5,359.5 L378,361 L379.5,356.5 L382.5,352.5 L384,357.5 L389.5,356.5 L387.5,361 L390,364.5 L386.5,366 L387,370.5 L382,369 L378,371.5 L377,367 L373,365.5 L375.5,362.5 Z" stroke="#111" stroke-width="1.35" fill="#fff" />
<ellipse cx="377.5" cy="365.5" rx="2.3" ry="2.0" stroke="#111" stroke-width="1.22" fill="none"/>
<ellipse cx="383.0" cy="362.5" rx="2.0" ry="2.3" stroke="#111" stroke-width="1.08" fill="none"/>
<ellipse cx="374.8" cy="360.8" rx="1.3" ry="1.3" stroke="#111" stroke-width="1.08" fill="none"/>
<path d="M379.5,356.5 L381,361 M384,357.5 L383.5,360.5 M387,370.5 L384.5,366.5" stroke="#111" stroke-width="1.08" fill="none" />
<line x1="389.5" y1="359.5" x2="389.5" y2="363.0" stroke="#111" stroke-width="2.16"/>
<line x1="381.6" y1="371.0" x2="381.6" y2="385.0" stroke="#111" stroke-width="1.08"/>
<line x1="390.4" y1="367.0" x2="390.4" y2="388.0" stroke="#111" stroke-width="1.08" stroke-dasharray="5 1.2"/>
<path d="M379,372.5 L384,379.5 M384,372.5 L379.5,379.5" stroke="#111" stroke-width="0.81" fill="none" />
<path d="M377,384 L380,382.2 L384.5,383.5 L381.5,385.8 Z" stroke="#111" stroke-width="1.22" fill="none" />
<ellipse cx="381.7" cy="390.0" rx="1.5" ry="2.2" stroke="#111" stroke-width="1.22" fill="none"/>
<ellipse cx="381.7" cy="394.5" rx="1.7" ry="1.2" stroke="#111" stroke-width="1.22" fill="none"/>
<ellipse cx="390.5" cy="391.0" rx="1.3" ry="2.0" stroke="#111" stroke-width="1.22" fill="none"/>
<path d="M381.7,396.5 L381.7,399 M390.5,393.5 L390.5,396" stroke="#111" stroke-width="0.94" fill="none" />
<polygon points="381.7,399.5 380,403 383.4,403" fill="#111"/>
<polygon points="390.5,396 389,399.3 392,399.3" fill="#111"/>
<line x1="381.7" y1="386.5" x2="381.7" y2="387.8" stroke="#111" stroke-width="0.94"/>
<line x1="389.7" y1="370.5" x2="412.1" y2="381.7" stroke="#111" stroke-width="0.68"/>
<path d="M408.5,384 L408.5,376.5 C408.5,375 409.5,374 411,374 L417.5,373.5 L418,375.5 L411.5,376.3 L410.5,377.5 L410.5,384 Z" stroke="#111" stroke-width="1.22" fill="none" />
<ellipse cx="417.2" cy="384.6" rx="3.6" ry="4.4" stroke="#111" stroke-width="1.35" fill="#333" transform="rotate(-15 417.2 384.6)"/>
<ellipse cx="420.0" cy="385.5" rx="3.3" ry="4.2" stroke="#111" stroke-width="1.35" fill="#555" transform="rotate(-15 420.0 385.5)"/>
<path d="M415.8,380.6 L419,381.6 M416.5,388.8 L420,389.8" stroke="#111" stroke-width="1.62" fill="none" />
<ellipse cx="420.6" cy="385.6" rx="1.6" ry="2.2" stroke="#111" stroke-width="0.81" fill="#ccc" transform="rotate(-15 420.6 385.6)"/>
<path d="M425.5,383 L429,380.5 L433,381.5 L434.5,385 L433.8,390.5 L430.5,394.5 L426,394 L424,390.5 L423.8,386.5 Z" stroke="#111" stroke-width="1.35" fill="#fff" />
<ellipse cx="429.0" cy="387.5" rx="2.5" ry="3.0" stroke="#111" stroke-width="1.08" fill="none"/>
<path d="M426.5,383.5 L428.5,385 M433,382.5 L431,385 M426.5,393 L428,390.3" stroke="#111" stroke-width="0.94" fill="none" />
<path d="M429,380.5 L429.5,378.5 L432.5,378.8 L433,381.5" stroke="#111" stroke-width="1.08" fill="none" />
<path d="M565.2,320.9 L579.1,324.4 C583,325.5 584.9,327.5 584.9,330.2 L584.9,340.6 C584.8,343 583,343.8 579.1,344.1 L565.2,347.6" stroke="#111" stroke-width="1.42" fill="none" />
<line x1="565.2" y1="320.9" x2="561.5" y2="320.0" stroke="#111" stroke-width="2.97"/>
<line x1="565.2" y1="347.6" x2="562.0" y2="348.4" stroke="#111" stroke-width="2.43"/>
<path d="M532.7,338.3 L565.2,354.6 C566,355.3 566,356 565.2,356.6 L544.5,368.8 C543,369.8 541.5,369.9 539.5,369.4 L512.9,361.5" stroke="#111" stroke-width="1.42" fill="none" />
<line x1="532.7" y1="338.3" x2="529.8" y2="336.9" stroke="#111" stroke-width="2.97"/>
<line x1="512.9" y1="361.5" x2="510.0" y2="360.6" stroke="#111" stroke-width="1.35"/>
<ellipse cx="557.5" cy="351.7" rx="2.1" ry="1.4" stroke="#111" stroke-width="1.22" fill="#fff" transform="rotate(-10 557.5 351.7)"/>
<line x1="550.5" y1="355.3" x2="552.5" y2="355.8" stroke="#111" stroke-width="2.16"/>
<path d="M525.7,354.8 L525.7,361.3 C527.7,363.3 531.7,363.3 533.7,361.3 L533.7,354.8 C531.7,352.8 527.7,352.8 525.7,354.8 Z" stroke="#111" stroke-width="1.35" fill="#fff" />
<path d="M525.7,354.8 C527.7,356.8 531.7,356.8 533.7,354.8" stroke="#111" stroke-width="1.08" fill="none" />
<path d="M528.4000000000001,353.3 L528.4000000000001,351.3 L531.0,351.3 L531.0,353.3" stroke="#111" stroke-width="1.08" fill="none" />
<line x1="526.9" y1="356.8" x2="526.9" y2="361.6" stroke="#111" stroke-width="0.81"/>
<path d="M537.4,353.8 L537.4,360.3 C539.7,362.3 544.3,362.3 546.6,360.3 L546.6,353.8 C544.3,351.8 539.7,351.8 537.4,353.8 Z" stroke="#111" stroke-width="1.35" fill="#fff" />
<path d="M537.4,353.8 C539.7,355.8 544.3,355.8 546.6,353.8" stroke="#111" stroke-width="1.08" fill="none" />
<path d="M540.7,352.3 L540.7,350.3 L543.3,350.3 L543.3,352.3" stroke="#111" stroke-width="1.08" fill="none" />
<line x1="538.6" y1="355.8" x2="538.6" y2="360.6" stroke="#111" stroke-width="0.81"/>
<ellipse cx="530.3" cy="349.5" rx="1.2" ry="0.9" stroke="#111" stroke-width="0.94" fill="none"/>
<path d="M538,361 L546,363 L546.5,361" stroke="#111" stroke-width="0.94" fill="none" />
<line x1="506.3" y1="343.0" x2="506.3" y2="349.5" stroke="#111" stroke-width="1.35"/>
<ellipse cx="506.3" cy="342.5" rx="1.0" ry="1.0" stroke="#111" stroke-width="0.94" fill="none"/>
<polygon points="506.3,351.5 505,348.5 507.6,348.5" fill="#111"/>
<ellipse cx="506.6" cy="355.0" rx="1.6" ry="1.1" stroke="#111" stroke-width="1.08" fill="none"/>
<ellipse cx="507.1" cy="359.9" rx="2.3" ry="1.4" stroke="#111" stroke-width="1.35" fill="none"/>
<line x1="506.8" y1="361.5" x2="506.3" y2="369.0" stroke="#111" stroke-width="0.81"/>
<path d="M495,373 L499.5,374.5 L500,370.5 L504.5,369.5 L508,371.5 L512.5,370 L513,373.5 L509.5,375 L511,378.5 L507.5,380 L507,386 L503.5,385.5 L503,380.5 L499,381.5 L498.5,386.5 L495.5,386 L496,379.5 L493.8,377.5 Z" stroke="#111" stroke-width="1.35" fill="#fff" />
<ellipse cx="498.0" cy="377.5" rx="1.8" ry="2.0" stroke="#111" stroke-width="1.22" fill="none"/>
<ellipse cx="505.0" cy="376.0" rx="2.0" ry="1.8" stroke="#111" stroke-width="1.08" fill="none"/>
<ellipse cx="496.2" cy="374.2" rx="1.1" ry="1.1" stroke="#111" stroke-width="1.08" fill="none"/>
<path d="M500,370.5 L501,374 M508,371.5 L507,374.5" stroke="#111" stroke-width="1.08" fill="none" />
<line x1="512.0" y1="371.8" x2="514.5" y2="371.0" stroke="#111" stroke-width="2.16"/>
<line x1="516.8" y1="370.5" x2="520.5" y2="371.8" stroke="#111" stroke-width="2.70"/>
<line x1="520.5" y1="371.8" x2="522.5" y2="372.4" stroke="#111" stroke-width="1.08"/>
<path d="M509.5,387.5 L509.5,380.5 C509.5,379 510.5,378.2 512,378 L517,377.3 L517.4,379.3 L512.3,380.2 L511.5,381.3 L511.5,387.5 Z" stroke="#111" stroke-width="1.22" fill="none" />
<ellipse cx="517.0" cy="388.0" rx="3.6" ry="4.4" stroke="#111" stroke-width="1.35" fill="#333" transform="rotate(-15 517.0 388.0)"/>
<ellipse cx="519.8" cy="388.9" rx="3.3" ry="4.2" stroke="#111" stroke-width="1.35" fill="#555" transform="rotate(-15 519.8 388.9)"/>
<ellipse cx="520.4" cy="389.0" rx="1.6" ry="2.2" stroke="#111" stroke-width="0.81" fill="#ccc" transform="rotate(-15 520.4 389.0)"/>
<path d="M527,388 L531,385.6 L536,386.8 L538.5,390.5 L538,396 L534,399.6 L528.5,399 L525.5,395.5 L525,391 Z" stroke="#111" stroke-width="1.35" fill="#fff" />
<ellipse cx="532.5" cy="393.0" rx="3.0" ry="3.4" stroke="#111" stroke-width="1.08" fill="none"/>
<path d="M528,388.5 L530.5,390.5 M536.5,388 L534.5,390.5 M528,398 L530,395.5" stroke="#111" stroke-width="0.94" fill="none" />
<path d="M531,393 L534,391.5 L534,395" stroke="#111" stroke-width="0.94" fill="none" />
<path d="M560,397 L564.5,399 L565,394.5 L569,392.5 L570,389.5 L573,389.5 L573.5,392.5 L578,393.5 L581.5,397 L583,402 L581.5,407.5 L577.5,411.5 L572,412.5 L568.5,410.5 L567.5,413 L564,412.5 L564.5,408 L562,404.5 L559.5,404 L559.2,400 Z" stroke="#111" stroke-width="1.49" fill="#fff" />
<ellipse cx="575.8" cy="403.5" rx="6.3" ry="7.0" stroke="#111" stroke-width="1.35" fill="none" transform="rotate(-15 575.8 403.5)"/>
<path d="M571.5,398.5 L575.5,403.5 L574.5,410 M575.5,403.5 L581,399.5" stroke="#111" stroke-width="1.22" fill="none" />
<path d="M576.5,409.5 C575.5,406.5 577,403.5 580.5,402.5" stroke="#111" stroke-width="0.94" fill="none" />
<ellipse cx="562.5" cy="400.5" rx="1.3" ry="1.5" stroke="#111" stroke-width="1.08" fill="none"/>
<ellipse cx="566.0" cy="407.5" rx="1.3" ry="1.3" stroke="#111" stroke-width="1.08" fill="none"/>
<ellipse cx="567.0" cy="396.5" rx="1.2" ry="1.2" stroke="#111" stroke-width="1.08" fill="none"/>
<path d="M565,394.5 L567,399.5 M568.5,410.5 L569.5,406.5 M564.5,408 L567.5,404" stroke="#111" stroke-width="1.22" fill="none" />
<path d="M559.5,404 L557.5,405.5 L558.5,408.5 M561.5,396.5 L559.5,395 L560,393" stroke="#111" stroke-width="1.22" fill="none" />
<line x1="94.5" y1="58.9" x2="73.6" y2="66.5" stroke="#111" stroke-width="1.08"/>
<polygon points="69.7,67.9 73.2,65.2 74.1,67.8" fill="#111"/>
<line x1="94.5" y1="58.9" x2="78.1" y2="69.5" stroke="#111" stroke-width="1.08"/>
<polygon points="74.6,71.8 77.4,68.3 78.9,70.7" fill="#111"/>
<line x1="98.5" y1="74.2" x2="54.6" y2="92.5" stroke="#111" stroke-width="1.08"/>
<polygon points="50.7,94.1 54.0,91.2 55.1,93.8" fill="#111"/>
<line x1="116.4" y1="104.0" x2="107.9" y2="117.2" stroke="#111" stroke-width="1.08"/>
<polygon points="105.6,120.7 106.7,116.4 109.1,117.9" fill="#111"/>
<line x1="139.6" y1="95.5" x2="149.3" y2="114.5" stroke="#111" stroke-width="1.08"/>
<polygon points="151.2,118.2 148.0,115.1 150.5,113.8" fill="#111"/>
<line x1="21.0" y1="171.0" x2="26.0" y2="193.0" stroke="#111" stroke-width="0.94"/>
<line x1="26.0" y1="174.0" x2="26.0" y2="193.0" stroke="#111" stroke-width="0.94"/>
<line x1="32.3" y1="224.9" x2="39.7" y2="237.5" stroke="#111" stroke-width="1.08"/>
<polygon points="41.8,241.1 38.5,238.2 40.9,236.8" fill="#111"/>
<line x1="33.6" y1="336.0" x2="47.1" y2="330.2" stroke="#111" stroke-width="1.08"/>
<polygon points="51.0,328.5 47.7,331.4 46.6,328.9" fill="#111"/>
<line x1="84.6" y1="347.2" x2="93.7" y2="339.8" stroke="#111" stroke-width="1.08"/>
<polygon points="97.0,337.2 94.6,340.9 92.9,338.7" fill="#111"/>
<line x1="84.6" y1="309.9" x2="101.6" y2="306.8" stroke="#111" stroke-width="1.08"/>
<polygon points="105.7,306.1 101.8,308.2 101.3,305.5" fill="#111"/>
<line x1="84.6" y1="309.9" x2="99.0" y2="311.8" stroke="#111" stroke-width="1.08"/>
<polygon points="103.2,312.4 98.9,313.2 99.2,310.5" fill="#111"/>
<line x1="119.4" y1="293.7" x2="122.8" y2="302.2" stroke="#111" stroke-width="1.08"/>
<polygon points="124.4,306.1 121.5,302.7 124.1,301.7" fill="#111"/>
<line x1="152.8" y1="296.3" x2="148.5" y2="309.2" stroke="#111" stroke-width="1.08"/>
<polygon points="147.2,313.2 147.2,308.8 149.9,309.7" fill="#111"/>
<line x1="173.4" y1="252.3" x2="150.3" y2="275.4" stroke="#111" stroke-width="1.08"/>
<polygon points="147.3,278.4 149.3,274.4 151.3,276.4" fill="#111"/>
<line x1="192.1" y1="269.2" x2="179.4" y2="277.3" stroke="#111" stroke-width="1.08"/>
<polygon points="175.9,279.6 178.7,276.2 180.2,278.5" fill="#111"/>
<line x1="192.1" y1="269.2" x2="181.9" y2="286.0" stroke="#111" stroke-width="1.08"/>
<polygon points="179.7,289.6 180.7,285.3 183.1,286.7" fill="#111"/>
<line x1="192.1" y1="288.3" x2="187.8" y2="291.9" stroke="#111" stroke-width="1.08"/>
<polygon points="184.6,294.6 186.9,290.8 188.7,293.0" fill="#111"/>
<line x1="178.4" y1="226.1" x2="179.3" y2="215.4" stroke="#111" stroke-width="1.08"/>
<polygon points="179.7,211.2 180.7,215.5 177.9,215.3" fill="#111"/>
<line x1="203.3" y1="243.6" x2="209.6" y2="234.5" stroke="#111" stroke-width="1.08"/>
<polygon points="212.0,231.1 210.7,235.3 208.5,233.7" fill="#111"/>
<line x1="246.3" y1="277.4" x2="271.0" y2="256.9" stroke="#111" stroke-width="1.08"/>
<polygon points="274.2,254.2 271.9,258.0 270.1,255.8" fill="#111"/>
<line x1="322.7" y1="289.7" x2="325.6" y2="283.1" stroke="#111" stroke-width="1.08"/>
<polygon points="327.3,279.3 326.9,283.7 324.3,282.6" fill="#111"/>
<line x1="251.5" y1="313.2" x2="237.3" y2="313.2" stroke="#111" stroke-width="1.08"/>
<polygon points="233.1,313.2 237.3,311.8 237.3,314.6" fill="#111"/>
<line x1="254.3" y1="332.9" x2="231.1" y2="346.3" stroke="#111" stroke-width="1.08"/>
<polygon points="227.5,348.4 230.4,345.1 231.8,347.5" fill="#111"/>
<line x1="254.3" y1="332.9" x2="238.5" y2="353.6" stroke="#111" stroke-width="1.08"/>
<polygon points="236.0,356.9 237.4,352.7 239.7,354.4" fill="#111"/>
<line x1="255.7" y1="351.3" x2="244.9" y2="359.9" stroke="#111" stroke-width="1.08"/>
<polygon points="241.6,362.5 244.0,358.8 245.8,361.0" fill="#111"/>
<line x1="298.3" y1="359.4" x2="299.9" y2="350.7" stroke="#111" stroke-width="1.08"/>
<polygon points="300.6,346.6 301.2,351.0 298.5,350.5" fill="#111"/>
<line x1="223.0" y1="147.0" x2="221.9" y2="160.6" stroke="#111" stroke-width="1.08"/>
<polygon points="221.6,164.8 220.5,160.5 223.3,160.7" fill="#111"/>
<line x1="223.0" y1="147.0" x2="231.7" y2="169.1" stroke="#111" stroke-width="1.08"/>
<polygon points="233.2,173.0 230.4,169.6 233.0,168.6" fill="#111"/>
<line x1="244.8" y1="134.6" x2="256.5" y2="142.1" stroke="#111" stroke-width="1.08"/>
<polygon points="260.0,144.4 255.7,143.3 257.2,140.9" fill="#111"/>
<line x1="286.9" y1="102.7" x2="281.7" y2="91.4" stroke="#111" stroke-width="1.08"/>
<polygon points="280.0,87.6 283.0,90.8 280.5,92.0" fill="#111"/>
<line x1="305.5" y1="93.4" x2="306.4" y2="79.0" stroke="#111" stroke-width="1.08"/>
<polygon points="306.6,74.8 307.7,79.1 305.0,78.9" fill="#111"/>
<line x1="305.5" y1="93.4" x2="312.8" y2="78.6" stroke="#111" stroke-width="1.08"/>
<polygon points="314.7,74.8 314.1,79.2 311.6,77.9" fill="#111"/>
<line x1="328.5" y1="94.0" x2="335.8" y2="99.7" stroke="#111" stroke-width="1.08"/>
<polygon points="339.1,102.3 334.9,100.8 336.7,98.6" fill="#111"/>
<line x1="347.0" y1="83.9" x2="372.9" y2="92.0" stroke="#111" stroke-width="1.08"/>
<polygon points="376.9,93.2 372.5,93.3 373.3,90.6" fill="#111"/>
<line x1="365.3" y1="75.8" x2="379.8" y2="80.3" stroke="#111" stroke-width="1.08"/>
<polygon points="383.8,81.6 379.4,81.7 380.2,79.0" fill="#111"/>
<line x1="365.3" y1="75.8" x2="376.1" y2="85.8" stroke="#111" stroke-width="1.08"/>
<polygon points="379.2,88.6 375.2,86.8 377.1,84.7" fill="#111"/>
<line x1="415.7" y1="72.2" x2="415.7" y2="97.1" stroke="#111" stroke-width="1.08"/>
<polygon points="415.7,101.3 414.3,97.1 417.1,97.1" fill="#111"/>
<line x1="415.7" y1="72.2" x2="426.4" y2="90.7" stroke="#111" stroke-width="1.08"/>
<polygon points="428.5,94.3 425.2,91.4 427.6,90.0" fill="#111"/>
<line x1="415.7" y1="72.2" x2="421.0" y2="92.9" stroke="#111" stroke-width="1.08"/>
<polygon points="422.0,97.0 419.6,93.3 422.3,92.6" fill="#111"/>
<line x1="434.3" y1="63.0" x2="441.8" y2="78.9" stroke="#111" stroke-width="1.08"/>
<polygon points="443.6,82.7 440.5,79.5 443.1,78.3" fill="#111"/>
<line x1="449.4" y1="54.8" x2="456.4" y2="80.9" stroke="#111" stroke-width="1.08"/>
<polygon points="457.5,85.0 455.1,81.3 457.8,80.6" fill="#111"/>
<line x1="465.6" y1="46.7" x2="472.5" y2="68.2" stroke="#111" stroke-width="1.08"/>
<polygon points="473.8,72.2 471.2,68.6 473.8,67.8" fill="#111"/>
<line x1="483.0" y1="38.6" x2="484.8" y2="50.6" stroke="#111" stroke-width="1.08"/>
<polygon points="485.4,54.8 483.4,50.9 486.2,50.4" fill="#111"/>
<line x1="483.0" y1="38.6" x2="498.1" y2="54.5" stroke="#111" stroke-width="1.08"/>
<polygon points="501.0,57.5 497.1,55.4 499.1,53.5" fill="#111"/>
<line x1="564.0" y1="80.8" x2="553.5" y2="73.8" stroke="#111" stroke-width="1.08"/>
<polygon points="550.0,71.5 554.3,72.7 552.7,75.0" fill="#111"/>
<line x1="492.9" y1="113.2" x2="476.1" y2="117.5" stroke="#111" stroke-width="1.08"/>
<polygon points="472.0,118.5 475.7,116.1 476.4,118.8" fill="#111"/>
<line x1="505.9" y1="130.0" x2="520.3" y2="140.3" stroke="#111" stroke-width="1.08"/>
<polygon points="523.7,142.7 519.5,141.4 521.1,139.1" fill="#111"/>
<line x1="349.0" y1="130.8" x2="353.8" y2="138.4" stroke="#111" stroke-width="1.08"/>
<polygon points="356.0,142.0 352.6,139.2 355.0,137.7" fill="#111"/>
<line x1="367.6" y1="122.2" x2="375.1" y2="138.2" stroke="#111" stroke-width="1.08"/>
<polygon points="376.9,142.0 373.8,138.8 376.4,137.6" fill="#111"/>
<line x1="367.6" y1="122.2" x2="389.1" y2="129.5" stroke="#111" stroke-width="1.08"/>
<polygon points="393.1,130.8 388.7,130.8 389.6,128.1" fill="#111"/>
<line x1="367.6" y1="122.2" x2="378.4" y2="135.7" stroke="#111" stroke-width="1.08"/>
<polygon points="381.0,139.0 377.3,136.6 379.5,134.8" fill="#111"/>
<line x1="436.1" y1="147.8" x2="419.8" y2="136.2" stroke="#111" stroke-width="1.08"/>
<polygon points="416.4,133.8 420.6,135.1 419.0,137.4" fill="#111"/>
<line x1="436.1" y1="147.8" x2="430.9" y2="136.5" stroke="#111" stroke-width="1.08"/>
<polygon points="429.1,132.7 432.1,135.9 429.6,137.1" fill="#111"/>
<line x1="436.1" y1="147.8" x2="434.2" y2="126.4" stroke="#111" stroke-width="1.08"/>
<polygon points="433.8,122.2 435.6,126.3 432.8,126.5" fill="#111"/>
<line x1="416.4" y1="158.2" x2="397.3" y2="145.7" stroke="#111" stroke-width="1.08"/>
<polygon points="393.8,143.4 398.1,144.5 396.5,146.9" fill="#111"/>
<line x1="427.0" y1="191.5" x2="396.9" y2="179.5" stroke="#111" stroke-width="1.08"/>
<polygon points="393.0,178.0 397.4,178.2 396.4,180.9" fill="#111"/>
<line x1="412.9" y1="202.2" x2="402.8" y2="198.0" stroke="#111" stroke-width="1.08"/>
<polygon points="398.9,196.4 403.3,196.7 402.2,199.3" fill="#111"/>
<line x1="369.9" y1="194.1" x2="362.3" y2="196.4" stroke="#111" stroke-width="1.08"/>
<polygon points="358.3,197.6 361.9,195.0 362.7,197.7" fill="#111"/>
<line x1="319.1" y1="205.5" x2="314.7" y2="193.2" stroke="#111" stroke-width="1.08"/>
<polygon points="313.3,189.2 316.0,192.7 313.4,193.6" fill="#111"/>
<line x1="276.2" y1="170.6" x2="288.8" y2="188.1" stroke="#111" stroke-width="1.08"/>
<polygon points="291.3,191.5 287.7,188.9 290.0,187.3" fill="#111"/>
<line x1="380.8" y1="219.7" x2="364.7" y2="223.4" stroke="#111" stroke-width="1.08"/>
<polygon points="360.6,224.3 364.4,222.0 365.0,224.7" fill="#111"/>
<line x1="492.2" y1="167.9" x2="482.1" y2="172.9" stroke="#111" stroke-width="1.08"/>
<polygon points="478.3,174.8 481.4,171.7 482.7,174.2" fill="#111"/>
<line x1="492.2" y1="189.9" x2="479.3" y2="197.6" stroke="#111" stroke-width="1.08"/>
<polygon points="475.7,199.8 478.6,196.4 480.0,198.8" fill="#111"/>
<line x1="492.2" y1="189.9" x2="477.0" y2="205.1" stroke="#111" stroke-width="1.08"/>
<polygon points="474.0,208.1 476.0,204.1 478.0,206.1" fill="#111"/>
<line x1="492.2" y1="189.9" x2="475.0" y2="209.8" stroke="#111" stroke-width="1.08"/>
<polygon points="472.3,213.0 474.0,208.9 476.1,210.7" fill="#111"/>
<line x1="489.5" y1="238.3" x2="481.8" y2="223.6" stroke="#111" stroke-width="1.08"/>
<polygon points="479.8,219.9 483.0,223.0 480.5,224.3" fill="#111"/>
<line x1="489.5" y1="238.3" x2="481.1" y2="234.2" stroke="#111" stroke-width="1.08"/>
<polygon points="477.3,232.3 481.7,232.9 480.5,235.4" fill="#111"/>
<line x1="560.7" y1="197.6" x2="532.8" y2="177.3" stroke="#111" stroke-width="1.08"/>
<polygon points="529.4,174.8 533.6,176.1 532.0,178.4" fill="#111"/>
<line x1="560.7" y1="197.6" x2="534.3" y2="183.8" stroke="#111" stroke-width="1.08"/>
<polygon points="530.6,181.8 535.0,182.5 533.7,185.0" fill="#111"/>
<line x1="560.7" y1="197.6" x2="533.1" y2="191.0" stroke="#111" stroke-width="1.08"/>
<polygon points="529.0,190.0 533.4,189.6 532.8,192.3" fill="#111"/>
<line x1="560.7" y1="197.6" x2="530.4" y2="222.1" stroke="#111" stroke-width="1.08"/>
<polygon points="527.1,224.7 529.5,221.0 531.2,223.2" fill="#111"/>
<line x1="386.9" y1="247.7" x2="363.2" y2="250.7" stroke="#111" stroke-width="1.08"/>
<polygon points="359.0,251.2 363.0,249.3 363.3,252.1" fill="#111"/>
<line x1="386.9" y1="264.0" x2="367.9" y2="265.9" stroke="#111" stroke-width="1.08"/>
<polygon points="363.7,266.3 367.7,264.5 368.0,267.3" fill="#111"/>
<line x1="335.7" y1="283.2" x2="339.4" y2="268.8" stroke="#111" stroke-width="1.08"/>
<polygon points="340.4,264.7 340.7,269.1 338.0,268.4" fill="#111"/>
<line x1="399.7" y1="279.1" x2="410.0" y2="273.1" stroke="#111" stroke-width="1.08"/>
<polygon points="413.6,271.0 410.7,274.3 409.3,271.9" fill="#111"/>
<line x1="486.0" y1="281.2" x2="478.9" y2="277.7" stroke="#111" stroke-width="1.08"/>
<polygon points="475.1,275.8 479.5,276.4 478.2,278.9" fill="#111"/>
<line x1="486.0" y1="293.9" x2="471.6" y2="281.3" stroke="#111" stroke-width="1.08"/>
<polygon points="468.4,278.5 472.5,280.2 470.6,282.3" fill="#111"/>
<line x1="450.7" y1="312.7" x2="452.6" y2="296.0" stroke="#111" stroke-width="1.08"/>
<polygon points="453.1,291.8 454.0,296.1 451.2,295.8" fill="#111"/>
<line x1="464.7" y1="319.7" x2="460.8" y2="300.6" stroke="#111" stroke-width="1.08"/>
<polygon points="460.0,296.5 462.2,300.3 459.5,300.9" fill="#111"/>
<line x1="357.3" y1="333.2" x2="363.4" y2="341.1" stroke="#111" stroke-width="1.08"/>
<polygon points="366.0,344.4 362.3,341.9 364.5,340.2" fill="#111"/>
<line x1="399.6" y1="345.6" x2="396.4" y2="353.0" stroke="#111" stroke-width="1.08"/>
<polygon points="394.7,356.8 395.1,352.4 397.7,353.5" fill="#111"/>
<line x1="399.6" y1="345.6" x2="396.8" y2="359.9" stroke="#111" stroke-width="1.08"/>
<polygon points="396.0,364.0 395.4,359.6 398.2,360.1" fill="#111"/>
<line x1="417.0" y1="356.3" x2="410.0" y2="356.3" stroke="#111" stroke-width="1.08"/>
<polygon points="405.8,356.3 410.0,354.9 410.0,357.7" fill="#111"/>
<line x1="417.0" y1="356.3" x2="409.0" y2="362.8" stroke="#111" stroke-width="1.08"/>
<polygon points="405.8,365.5 408.2,361.8 409.9,363.9" fill="#111"/>
<line x1="364.8" y1="363.0" x2="374.8" y2="368.5" stroke="#111" stroke-width="1.08"/>
<polygon points="378.5,370.5 374.1,369.7 375.5,367.3" fill="#111"/>
<line x1="364.8" y1="363.0" x2="378.0" y2="376.2" stroke="#111" stroke-width="1.08"/>
<polygon points="381.0,379.2 377.0,377.2 379.0,375.2" fill="#111"/>
<line x1="364.8" y1="363.0" x2="375.2" y2="379.5" stroke="#111" stroke-width="1.08"/>
<polygon points="377.5,383.0 374.1,380.2 376.4,378.7" fill="#111"/>
<line x1="348.6" y1="375.5" x2="372.0" y2="382.9" stroke="#111" stroke-width="1.08"/>
<polygon points="376.0,384.2 371.6,384.3 372.4,381.6" fill="#111"/>
<line x1="348.6" y1="389.6" x2="374.3" y2="393.5" stroke="#111" stroke-width="1.08"/>
<polygon points="378.5,394.1 374.1,394.9 374.6,392.1" fill="#111"/>
<line x1="349.9" y1="404.1" x2="374.3" y2="400.9" stroke="#111" stroke-width="1.08"/>
<polygon points="378.5,400.3 374.5,402.2 374.2,399.5" fill="#111"/>
<line x1="405.8" y1="393.6" x2="396.4" y2="392.2" stroke="#111" stroke-width="1.08"/>
<polygon points="392.2,391.6 396.6,390.8 396.2,393.6" fill="#111"/>
<line x1="407.1" y1="405.3" x2="394.0" y2="399.5" stroke="#111" stroke-width="1.08"/>
<polygon points="390.2,397.8 394.6,398.2 393.5,400.8" fill="#111"/>
<line x1="448.1" y1="341.9" x2="441.0" y2="340.3" stroke="#111" stroke-width="1.08"/>
<polygon points="436.9,339.4 441.3,338.9 440.7,341.7" fill="#111"/>
<line x1="448.1" y1="354.8" x2="441.0" y2="352.9" stroke="#111" stroke-width="1.08"/>
<polygon points="436.9,351.8 441.3,351.5 440.6,354.2" fill="#111"/>
<line x1="448.1" y1="371.2" x2="422.5" y2="374.9" stroke="#111" stroke-width="1.08"/>
<polygon points="418.3,375.5 422.3,373.5 422.7,376.3" fill="#111"/>
<line x1="448.1" y1="383.7" x2="436.0" y2="379.9" stroke="#111" stroke-width="1.08"/>
<polygon points="432.0,378.7 436.4,378.6 435.6,381.3" fill="#111"/>
<line x1="501.3" y1="325.5" x2="515.2" y2="333.7" stroke="#111" stroke-width="0.94"/>
<line x1="515.2" y1="333.7" x2="510.1" y2="345.6" stroke="#111" stroke-width="1.08"/>
<polygon points="508.5,349.5 508.9,345.1 511.4,346.2" fill="#111"/>
<line x1="530.3" y1="327.9" x2="530.3" y2="345.7" stroke="#111" stroke-width="1.08"/>
<polygon points="530.3,349.9 528.9,345.7 531.7,345.7" fill="#111"/>
<line x1="544.3" y1="319.7" x2="542.2" y2="345.7" stroke="#111" stroke-width="1.08"/>
<polygon points="541.9,349.9 540.8,345.6 543.6,345.8" fill="#111"/>
<line x1="559.4" y1="311.6" x2="552.2" y2="341.2" stroke="#111" stroke-width="1.08"/>
<polygon points="551.2,345.3 550.8,340.9 553.6,341.6" fill="#111"/>
<line x1="577.9" y1="302.9" x2="577.9" y2="318.9" stroke="#111" stroke-width="1.08"/>
<polygon points="577.9,323.1 576.5,318.9 579.3,318.9" fill="#111"/>
<line x1="584.9" y1="351.5" x2="564.7" y2="351.5" stroke="#111" stroke-width="1.08"/>
<polygon points="560.5,351.5 564.7,350.1 564.7,352.9" fill="#111"/>
<line x1="584.9" y1="363.8" x2="555.3" y2="356.3" stroke="#111" stroke-width="1.08"/>
<polygon points="551.2,355.3 555.6,355.0 554.9,357.7" fill="#111"/>
<line x1="589.5" y1="382.4" x2="584.7" y2="390.4" stroke="#111" stroke-width="1.08"/>
<polygon points="582.6,394.0 583.5,389.7 586.0,391.1" fill="#111"/>
<line x1="543.1" y1="380.1" x2="526.1" y2="373.5" stroke="#111" stroke-width="1.08"/>
<polygon points="522.2,372.0 526.6,372.2 525.6,374.8" fill="#111"/>
<line x1="517.6" y1="349.9" x2="513.3" y2="354.8" stroke="#111" stroke-width="1.08"/>
<polygon points="510.6,358.0 512.3,353.9 514.4,355.7" fill="#111"/>
<line x1="487.4" y1="349.9" x2="498.4" y2="347.3" stroke="#111" stroke-width="1.08"/>
<polygon points="502.5,346.4 498.7,348.7 498.1,346.0" fill="#111"/>
<line x1="487.4" y1="349.9" x2="499.6" y2="354.3" stroke="#111" stroke-width="1.08"/>
<polygon points="503.6,355.7 499.2,355.6 500.1,353.0" fill="#111"/>
<line x1="487.4" y1="349.9" x2="502.9" y2="364.4" stroke="#111" stroke-width="1.08"/>
<polygon points="506.0,367.3 502.0,365.5 503.9,363.4" fill="#111"/>
<line x1="501.0" y1="400.7" x2="505.8" y2="395.2" stroke="#111" stroke-width="1.08"/>
<polygon points="508.6,392.0 506.9,396.1 504.8,394.2" fill="#111"/>
<line x1="501.0" y1="400.7" x2="511.3" y2="395.1" stroke="#111" stroke-width="1.08"/>
<polygon points="515.0,393.1 512.0,396.3 510.6,393.9" fill="#111"/>
<line x1="445.4" y1="199.9" x2="346.1" y2="242.4" stroke="#111" stroke-width="1.22"/>
<polygon points="339.7,245.2 345.3,240.4 347.0,244.5" fill="#111"/>
<line x1="376.1" y1="325.7" x2="360.6" y2="294.9" stroke="#111" stroke-width="1.22"/>
<polygon points="357.5,288.6 362.6,293.9 358.7,295.8" fill="#111"/>
<text x="104.8" y="62.9" font-size="8.6" text-anchor="middle">21</text>
<text x="104.8" y="76.1" font-size="8.6" text-anchor="middle">72</text>
<text x="118.5" y="101.9" font-size="8.6" text-anchor="middle">22</text>
<text x="136.0" y="93.1" font-size="8.6" text-anchor="middle">23</text>
<text x="27.5" y="204.1" font-size="8.6" text-anchor="middle">20</text>
<text x="27.9" y="220.0" font-size="8.6" text-anchor="middle">19</text>
<text x="15.2" y="299.5" font-size="8.6" text-anchor="middle">18</text>
<text x="26.1" y="340.8" font-size="8.6" text-anchor="middle">75</text>
<text x="77.9" y="351.5" font-size="8.6" text-anchor="middle">17</text>
<text x="77.9" y="313.0" font-size="8.6" text-anchor="middle">16</text>
<text x="117.8" y="291.5" font-size="8.6" text-anchor="middle">15</text>
<text x="155.8" y="294.1" font-size="8.6" text-anchor="middle">14</text>
<text x="175.2" y="250.4" font-size="8.6" text-anchor="middle">11</text>
<text x="197.6" y="269.8" font-size="8.6" text-anchor="middle">12</text>
<text x="197.1" y="288.2" font-size="8.6" text-anchor="middle">13</text>
<text x="175.2" y="234.2" font-size="8.6" text-anchor="middle">10</text>
<text x="200.6" y="210.1" font-size="8.6" text-anchor="middle">9</text>
<text x="200.8" y="250.9" font-size="8.6" text-anchor="middle">8</text>
<text x="244.2" y="284.6" font-size="8.6" text-anchor="middle">7</text>
<text x="321.5" y="297.5" font-size="8.6" text-anchor="middle">6</text>
<text x="258.5" y="316.3" font-size="8.6" text-anchor="middle">5</text>
<text x="258.5" y="333.2" font-size="8.6" text-anchor="middle">4</text>
<text x="258.5" y="349.6" font-size="8.6" text-anchor="middle">3</text>
<text x="296.5" y="367.1" font-size="8.6" text-anchor="middle">2</text>
<text x="338.3" y="324.9" font-size="8.6" text-anchor="middle">1</text>
<text x="220.5" y="144.9" font-size="8.6" text-anchor="middle">24</text>
<text x="237.9" y="135.4" font-size="8.6" text-anchor="middle">25</text>
<text x="288.0" y="110.9" font-size="8.6" text-anchor="middle">26</text>
<text x="304.8" y="102.3" font-size="8.6" text-anchor="middle">27</text>
<text x="323.0" y="93.5" font-size="8.6" text-anchor="middle">30</text>
<text x="339.4" y="84.8" font-size="8.6" text-anchor="middle">31</text>
<text x="356.6" y="76.9" font-size="8.6" text-anchor="middle">32</text>
<text x="414.6" y="70.7" font-size="8.6" text-anchor="middle">33</text>
<text x="430.8" y="61.4" font-size="8.6" text-anchor="middle">34</text>
<text x="448.2" y="53.3" font-size="8.6" text-anchor="middle">35</text>
<text x="464.5" y="45.1" font-size="8.6" text-anchor="middle">36</text>
<text x="481.5" y="36.4" font-size="8.6" text-anchor="middle">37</text>
<text x="568.6" y="85.5" font-size="8.6" text-anchor="middle">38</text>
<text x="498.2" y="115.2" font-size="8.6" text-anchor="middle">39</text>
<text x="498.5" y="131.5" font-size="8.6" text-anchor="middle">55</text>
<text x="345.7" y="128.3" font-size="8.6" text-anchor="middle">28</text>
<text x="362.1" y="119.9" font-size="8.6" text-anchor="middle">29</text>
<text x="438.4" y="156.9" font-size="8.6" text-anchor="middle">40</text>
<text x="421.0" y="164.5" font-size="8.6" text-anchor="middle">41</text>
<text x="432.6" y="198.8" font-size="8.6" text-anchor="middle">42</text>
<text x="417.5" y="207.0" font-size="8.6" text-anchor="middle">43</text>
<text x="375.3" y="196.1" font-size="8.6" text-anchor="middle">44</text>
<text x="320.4" y="213.1" font-size="8.6" text-anchor="middle">45</text>
<text x="272.7" y="169.8" font-size="8.6" text-anchor="middle">46</text>
<text x="386.9" y="221.6" font-size="8.6" text-anchor="middle">47</text>
<text x="497.2" y="168.7" font-size="8.6" text-anchor="middle">71</text>
<text x="497.0" y="189.4" font-size="8.6" text-anchor="middle">70</text>
<text x="496.0" y="245.7" font-size="8.6" text-anchor="middle">70</text>
<text x="566.5" y="202.3" font-size="8.6" text-anchor="middle">56</text>
<text x="392.9" y="248.6" font-size="8.6" text-anchor="middle">49</text>
<text x="392.7" y="266.4" font-size="8.6" text-anchor="middle">50</text>
<text x="334.5" y="290.8" font-size="8.6" text-anchor="middle">48</text>
<text x="392.2" y="285.8" font-size="8.6" text-anchor="middle">51</text>
<text x="427.5" y="267.1" font-size="8.6" text-anchor="middle">54</text>
<text x="490.8" y="285.7" font-size="8.6" text-anchor="middle">53</text>
<text x="490.8" y="298.7" font-size="8.6" text-anchor="middle">52</text>
<text x="448.5" y="320.7" font-size="8.6" text-anchor="middle">52</text>
<text x="464.1" y="328.3" font-size="8.6" text-anchor="middle">53</text>
<text x="354.2" y="333.0" font-size="8.6" text-anchor="middle">69</text>
<text x="400.9" y="343.7" font-size="8.6" text-anchor="middle">52</text>
<text x="423.3" y="359.4" font-size="8.6" text-anchor="middle">53</text>
<text x="360.5" y="361.4" font-size="8.6" text-anchor="middle">51</text>
<text x="342.9" y="377.8" font-size="8.6" text-anchor="middle">68</text>
<text x="342.9" y="392.7" font-size="8.6" text-anchor="middle">67</text>
<text x="342.9" y="407.7" font-size="8.6" text-anchor="middle">20</text>
<text x="412.1" y="398.5" font-size="8.6" text-anchor="middle">67</text>
<text x="412.1" y="411.6" font-size="8.6" text-anchor="middle">20</text>
<text x="453.9" y="345.7" font-size="8.6" text-anchor="middle">66</text>
<text x="453.9" y="359.4" font-size="8.6" text-anchor="middle">65</text>
<text x="453.9" y="374.3" font-size="8.6" text-anchor="middle">74</text>
<text x="453.9" y="388.5" font-size="8.6" text-anchor="middle">73</text>
<text x="495.5" y="327.5" font-size="8.6" text-anchor="middle">61</text>
<text x="481.6" y="352.6" font-size="8.6" text-anchor="middle">52</text>
<text x="518.7" y="348.4" font-size="8.6" text-anchor="middle">64</text>
<text x="530.4" y="326.0" font-size="8.6" text-anchor="middle">60</text>
<text x="545.4" y="317.9" font-size="8.6" text-anchor="middle">59</text>
<text x="561.0" y="309.8" font-size="8.6" text-anchor="middle">58</text>
<text x="577.1" y="300.6" font-size="8.6" text-anchor="middle">57</text>
<text x="590.7" y="354.2" font-size="8.6" text-anchor="middle">53</text>
<text x="590.7" y="368.1" font-size="8.6" text-anchor="middle">52</text>
<text x="548.7" y="384.4" font-size="8.6" text-anchor="middle">62</text>
<text x="497.8" y="408.1" font-size="8.6" text-anchor="middle">63</text>
<text x="590.6" y="381.0" font-size="8.6" text-anchor="middle">50</text>
</g>
<rect x="600" y="0" width="3" height="422" fill="#000"/>
</svg>
</body></html>
